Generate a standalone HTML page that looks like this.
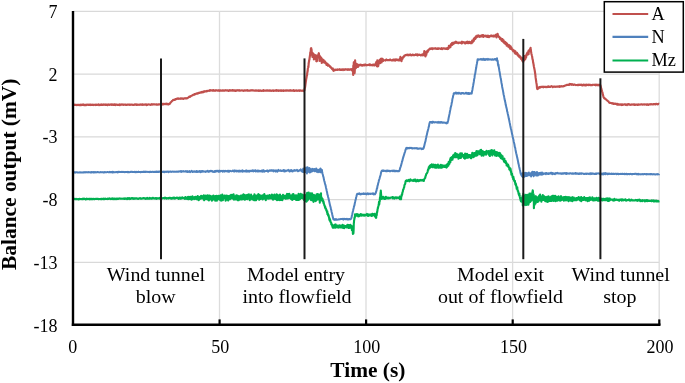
<!DOCTYPE html>
<html><head><meta charset="utf-8"><style>
html,body{margin:0;padding:0;background:#fff;}
svg{display:block;}
text{font-family:"Liberation Serif","Times New Roman",serif;fill:#000;}
.tk{font-size:18px;}
.ax{font-size:21.4px;font-weight:bold;}
.an{font-size:19px;}
.lg{font-size:18.3px;}
</style></head><body>
<svg width="685" height="383" viewBox="0 0 685 383">
<rect width="685" height="383" fill="#fff"/>
<line x1="73" y1="11.45" x2="659.3" y2="11.45" stroke="#d9d9d9" stroke-width="1.25"/>
<line x1="73" y1="74.17" x2="659.3" y2="74.17" stroke="#d9d9d9" stroke-width="1.25"/>
<line x1="73" y1="136.89" x2="659.3" y2="136.89" stroke="#d9d9d9" stroke-width="1.25"/>
<line x1="73" y1="199.61" x2="659.3" y2="199.61" stroke="#d9d9d9" stroke-width="1.25"/>
<line x1="73" y1="262.33" x2="659.3" y2="262.33" stroke="#d9d9d9" stroke-width="1.25"/>
<line x1="219.5" y1="11.2" x2="219.5" y2="324.8" stroke="#dcdcdc" stroke-width="1.3"/>
<line x1="366.0" y1="11.2" x2="366.0" y2="324.8" stroke="#dcdcdc" stroke-width="1.3"/>
<line x1="512.6" y1="11.2" x2="512.6" y2="324.8" stroke="#dcdcdc" stroke-width="1.3"/>
<line x1="659.2" y1="11.2" x2="659.2" y2="324.8" stroke="#dcdcdc" stroke-width="1.3"/>
<polyline fill="none" stroke="#00B050" stroke-width="2.1" stroke-linejoin="round" points="73.0,198.9 73.3,199.2 73.7,199.3 74.0,199.0 74.4,198.8 74.7,199.1 75.1,199.2 75.4,199.3 75.8,198.9 76.1,198.8 76.5,199.2 76.8,199.2 77.2,199.3 77.5,199.2 77.9,199.0 78.2,199.0 78.6,199.4 78.9,199.0 79.3,198.9 79.6,198.8 80.0,199.1 80.3,199.1 80.7,199.0 81.0,199.0 81.4,199.1 81.7,199.1 82.1,199.2 82.4,199.1 82.8,198.7 83.1,199.1 83.5,198.7 83.8,199.0 84.2,198.7 84.5,199.0 84.9,198.8 85.2,199.0 85.6,199.4 85.9,199.0 86.3,199.1 86.6,198.7 87.0,198.9 87.3,199.1 87.7,198.9 88.0,199.0 88.4,199.0 88.7,198.8 89.1,199.1 89.4,198.8 89.8,199.3 90.1,198.8 90.5,199.1 90.8,198.9 91.2,199.1 91.5,198.8 91.9,199.1 92.2,198.9 92.6,199.2 92.9,199.0 93.3,198.9 93.6,198.8 94.0,199.1 94.3,199.0 94.7,199.2 95.0,198.8 95.4,199.0 95.7,199.0 96.1,198.9 96.4,198.9 96.8,198.9 97.1,198.8 97.5,198.7 97.8,198.8 98.2,199.0 98.5,199.2 98.9,199.1 99.2,199.1 99.6,199.0 99.9,199.0 100.3,198.9 100.6,199.0 101.0,199.2 101.3,198.8 101.7,198.7 102.0,199.2 102.4,198.9 102.7,199.0 103.1,199.0 103.4,198.6 103.8,199.3 104.1,199.2 104.5,198.8 104.8,199.0 105.2,198.8 105.5,198.6 105.9,198.8 106.2,198.9 106.6,199.0 106.9,198.9 107.3,198.8 107.6,199.1 108.0,198.6 108.3,198.9 108.7,199.0 109.0,198.7 109.4,198.4 109.7,198.6 110.1,198.8 110.4,198.9 110.8,199.1 111.1,198.5 111.5,198.7 111.8,198.9 112.2,198.7 112.5,198.3 112.9,198.9 113.2,199.2 113.6,198.9 113.9,198.5 114.3,198.6 114.6,198.8 115.0,199.2 115.3,198.8 115.7,198.7 116.0,199.0 116.4,198.7 116.7,199.1 117.1,198.5 117.4,198.6 117.8,198.8 118.1,199.0 118.5,198.8 118.8,198.7 119.2,198.3 119.5,198.5 119.9,198.5 120.2,198.5 120.6,198.8 120.9,198.6 121.3,198.8 121.6,198.7 122.0,198.6 122.3,198.7 122.7,198.7 123.0,198.8 123.4,198.5 123.7,198.6 124.1,198.3 124.4,199.0 124.8,198.9 125.1,198.6 125.5,198.5 125.8,198.3 126.2,198.6 126.5,198.6 126.9,199.1 127.2,198.7 127.6,198.4 127.9,198.1 128.3,198.9 128.6,198.6 129.0,198.2 129.3,198.6 129.7,198.2 130.0,199.1 130.4,198.8 130.7,198.7 131.1,198.5 131.4,198.1 131.8,198.5 132.1,198.2 132.5,198.7 132.8,198.1 133.2,198.3 133.5,198.8 133.9,198.9 134.2,198.3 134.6,198.2 134.9,198.7 135.3,198.7 135.6,198.3 136.0,198.4 136.3,198.4 136.7,198.2 137.0,198.3 137.4,198.8 137.7,198.7 138.1,199.0 138.4,198.5 138.8,198.5 139.1,198.3 139.5,198.5 139.8,198.2 140.2,198.1 140.5,198.6 140.9,198.8 141.2,198.7 141.6,198.8 141.9,198.5 142.3,198.3 142.6,198.5 143.0,198.4 143.3,198.2 143.7,198.0 144.0,198.1 144.4,198.4 144.7,198.5 145.1,198.3 145.4,198.8 145.8,198.5 146.1,198.6 146.5,198.7 146.8,198.2 147.2,197.9 147.5,198.6 147.9,198.2 148.2,198.7 148.6,198.5 148.9,198.6 149.3,198.6 149.6,197.9 150.0,198.6 150.3,198.2 150.7,198.2 151.0,198.3 151.4,198.6 151.7,198.6 152.1,198.6 152.4,197.9 152.8,198.2 153.1,197.8 153.5,198.3 153.8,198.5 154.2,198.2 154.5,198.4 154.9,198.4 155.2,198.6 155.6,198.1 155.9,198.1 156.3,198.1 156.6,198.8 157.0,198.6 157.3,198.3 157.7,198.4 158.0,198.3 158.4,198.4 158.7,198.2 159.1,198.2 159.4,197.9 159.8,198.1 160.1,198.8 160.5,198.4 160.8,198.3 161.2,198.2 161.5,198.3 161.9,198.4 162.2,198.1 162.6,198.3 162.9,198.3 163.3,198.0 163.6,198.0 164.0,198.0 164.3,197.9 164.7,198.5 165.0,197.6 165.4,198.2 165.7,198.1 166.1,198.0 166.4,198.3 166.8,198.6 167.1,198.3 167.5,198.2 167.8,198.0 168.2,198.2 168.5,198.5 168.9,198.1 169.2,197.8 169.6,197.8 169.9,197.8 170.3,197.8 170.6,198.5 171.0,198.3 171.3,198.1 171.7,198.7 172.0,198.0 172.4,198.4 172.7,198.4 173.1,197.6 173.4,197.6 173.8,197.8 174.1,198.5 174.5,198.6 174.8,197.7 175.2,198.5 175.5,198.0 175.9,198.0 176.2,197.9 176.6,198.0 176.9,197.5 177.3,197.8 177.6,197.7 178.0,198.3 178.3,198.8 178.7,198.9 179.0,198.0 179.4,197.5 179.7,197.9 180.1,197.7 180.4,198.8 180.8,198.3 181.1,197.8 181.5,198.5 181.8,198.3 182.2,197.3 182.5,197.8 182.9,197.9 183.2,198.1 183.6,198.1 183.9,197.9 184.3,198.1 184.6,197.7 184.8,197.5 184.9,198.9 185.1,198.2 185.2,198.3 185.4,197.1 185.5,197.9 185.7,198.5 185.8,197.2 186.0,198.7 186.1,197.8 186.3,198.3 186.4,197.9 186.6,198.1 186.7,198.8 186.9,197.7 187.0,199.0 187.2,197.5 187.3,197.4 187.5,198.5 187.6,197.3 187.8,197.7 187.9,198.6 188.1,198.8 188.2,196.8 188.4,198.3 188.5,199.3 188.7,198.8 188.8,197.8 189.0,197.5 189.1,197.8 189.3,197.1 189.4,197.8 189.6,197.8 189.7,197.9 189.9,198.9 190.0,197.8 190.2,196.8 190.3,198.8 190.5,197.1 190.6,197.6 190.8,197.9 190.9,197.7 191.1,197.1 191.2,197.8 191.4,199.7 191.5,197.4 191.7,197.8 191.8,198.9 192.0,198.6 192.1,198.6 192.3,198.7 192.4,196.2 192.6,197.2 192.7,198.0 192.9,198.4 193.0,199.1 193.2,198.3 193.3,197.7 193.5,198.0 193.6,197.7 193.8,198.1 193.9,198.5 194.1,197.6 194.2,197.2 194.4,197.1 194.5,198.9 194.7,199.1 194.8,198.9 195.0,198.7 195.1,198.7 195.3,197.9 195.4,198.5 195.6,196.9 195.7,197.7 195.9,197.2 196.0,198.6 196.2,197.3 196.3,197.8 196.5,198.3 196.6,199.2 196.8,197.1 196.9,196.9 197.1,198.7 197.2,196.8 197.4,198.3 197.5,197.3 197.7,197.8 197.8,196.0 198.0,198.6 198.1,197.4 198.3,196.9 198.4,200.0 198.6,198.6 198.7,200.1 198.9,198.3 199.0,197.5 199.2,198.0 199.3,199.5 199.5,197.8 199.6,198.3 199.8,198.4 199.9,196.9 200.1,198.0 200.2,197.3 200.4,196.5 200.5,198.8 200.7,198.6 200.8,197.9 201.0,196.9 201.1,195.7 201.3,198.4 201.4,197.7 201.6,196.0 201.7,197.8 201.9,196.1 202.0,197.8 202.2,198.0 202.3,198.2 202.5,198.1 202.6,198.0 202.8,196.5 202.9,197.4 203.1,197.2 203.2,197.5 203.4,198.1 203.5,198.5 203.7,199.7 203.8,195.3 204.0,198.3 204.1,197.6 204.3,200.3 204.4,198.9 204.6,195.9 204.7,198.3 204.9,197.2 205.0,199.0 205.2,196.5 205.3,197.7 205.5,197.6 205.6,197.7 205.8,197.1 205.9,195.6 206.1,198.3 206.2,199.0 206.4,197.7 206.5,196.6 206.7,198.0 206.8,198.5 207.0,197.6 207.1,197.7 207.3,199.5 207.4,196.4 207.6,197.1 207.7,195.4 207.9,196.9 208.0,196.8 208.2,196.6 208.3,196.9 208.5,200.0 208.6,197.5 208.8,197.6 208.9,200.5 209.1,197.7 209.2,195.6 209.4,198.2 209.5,196.6 209.7,199.8 209.8,196.2 210.0,197.0 210.1,195.7 210.3,197.9 210.4,196.4 210.6,197.6 210.7,197.2 210.9,196.9 211.0,198.9 211.2,198.9 211.3,197.8 211.5,196.5 211.6,196.3 211.8,198.1 211.9,200.6 212.1,197.1 212.2,196.7 212.4,196.8 212.5,196.2 212.7,196.4 212.8,197.4 213.0,199.6 213.1,197.7 213.3,197.0 213.4,195.5 213.6,198.0 213.7,197.7 213.9,196.0 214.0,196.2 214.2,197.6 214.3,199.1 214.5,198.5 214.6,198.0 214.8,197.2 214.9,198.1 215.1,197.7 215.2,200.7 215.4,196.1 215.5,197.2 215.7,199.4 215.8,197.3 216.0,199.6 216.1,197.6 216.3,197.9 216.4,197.1 216.6,195.7 216.7,196.3 216.9,200.6 217.0,198.5 217.2,198.5 217.3,199.0 217.5,198.4 217.6,199.1 217.8,197.3 217.9,197.3 218.1,199.0 218.2,197.2 218.4,195.8 218.5,197.3 218.7,196.9 218.8,198.5 219.0,196.6 219.1,196.2 219.3,197.2 219.4,199.8 219.6,197.6 219.7,197.8 219.9,197.6 220.0,198.0 220.2,198.9 220.3,199.5 220.5,195.3 220.6,199.5 220.8,197.6 220.9,197.2 221.1,200.6 221.2,197.4 221.4,200.3 221.5,198.9 221.7,196.2 221.8,198.3 222.0,198.6 222.1,197.4 222.3,194.6 222.4,197.1 222.6,197.3 222.7,196.1 222.9,200.1 223.0,197.2 223.2,197.0 223.3,197.2 223.5,196.5 223.6,196.5 223.8,197.7 223.9,198.0 224.1,196.9 224.2,197.4 224.4,195.6 224.5,198.3 224.7,196.5 224.8,197.9 225.0,196.3 225.1,196.8 225.3,197.9 225.4,195.9 225.6,200.6 225.7,197.5 225.9,197.4 226.0,196.5 226.2,199.8 226.3,199.5 226.5,198.0 226.6,195.6 226.8,196.8 226.9,198.4 227.1,196.8 227.2,195.9 227.4,195.9 227.5,196.5 227.7,197.5 227.8,196.6 228.0,197.5 228.1,200.5 228.3,200.0 228.4,196.1 228.6,198.0 228.7,197.6 228.9,197.3 229.0,199.0 229.2,197.0 229.3,197.1 229.5,197.0 229.6,197.4 229.8,199.3 229.9,198.6 230.1,195.6 230.2,196.9 230.4,196.4 230.5,198.6 230.7,197.8 230.8,198.7 231.0,197.4 231.1,194.8 231.3,198.1 231.4,197.8 231.6,198.2 231.7,195.7 231.9,197.6 232.0,196.5 232.2,196.5 232.3,198.0 232.5,198.0 232.7,196.2 232.8,195.1 233.0,194.5 233.1,196.7 233.3,199.0 233.4,197.4 233.6,194.4 233.7,196.3 233.9,198.0 234.0,199.8 234.2,199.1 234.3,198.0 234.5,197.7 234.6,196.0 234.8,196.8 234.9,197.0 235.1,196.4 235.2,197.5 235.4,196.9 235.5,197.9 235.7,199.4 235.8,198.5 236.0,198.0 236.1,197.1 236.3,195.3 236.4,197.3 236.6,198.2 236.7,196.0 236.9,199.2 237.0,197.0 237.2,197.9 237.3,197.0 237.5,195.7 237.6,200.3 237.8,195.8 237.9,198.7 238.1,196.6 238.2,197.8 238.4,196.3 238.5,196.8 238.7,198.7 238.8,200.1 239.0,196.2 239.1,197.4 239.3,198.7 239.4,196.5 239.6,198.4 239.7,196.3 239.9,198.2 240.0,198.0 240.2,199.1 240.3,197.9 240.5,195.7 240.6,198.3 240.8,195.9 240.9,198.4 241.1,199.5 241.2,198.2 241.4,196.6 241.5,199.1 241.7,197.6 241.8,195.6 242.0,196.9 242.1,199.4 242.3,197.0 242.4,197.5 242.6,196.9 242.7,195.0 242.9,196.7 243.0,197.9 243.2,197.7 243.3,197.1 243.5,194.4 243.6,199.1 243.8,198.4 243.9,198.8 244.1,199.2 244.2,196.7 244.4,196.5 244.5,197.8 244.7,199.7 244.8,195.0 245.0,197.0 245.1,196.3 245.3,198.1 245.4,199.4 245.6,196.9 245.7,195.6 245.9,197.4 246.0,196.9 246.2,195.2 246.3,198.6 246.5,196.6 246.6,198.3 246.8,195.5 246.9,198.9 247.1,195.3 247.2,198.8 247.4,194.8 247.5,199.3 247.7,196.8 247.8,195.1 248.0,197.0 248.1,197.8 248.3,195.9 248.4,196.6 248.6,197.7 248.7,197.1 248.9,194.3 249.0,196.7 249.2,197.9 249.3,197.7 249.5,198.7 249.6,196.3 249.8,200.3 249.9,198.4 250.1,197.7 250.2,198.8 250.4,198.6 250.5,197.4 250.7,196.4 250.8,198.7 251.0,197.9 251.1,194.6 251.3,195.7 251.4,197.9 251.6,197.4 251.7,197.7 251.9,198.2 252.0,197.5 252.2,199.5 252.3,196.4 252.5,196.7 252.6,197.7 252.8,198.3 252.9,198.4 253.1,199.4 253.2,196.6 253.4,198.9 253.5,197.9 253.7,195.8 253.8,197.1 254.0,200.2 254.1,198.4 254.3,196.6 254.4,194.2 254.6,196.2 254.7,196.3 254.9,197.4 255.0,200.3 255.2,198.3 255.3,197.7 255.5,195.9 255.6,195.6 255.8,197.0 255.9,196.6 256.1,200.3 256.2,196.7 256.4,196.4 256.5,198.8 256.7,197.3 256.8,195.5 257.0,199.0 257.1,196.8 257.3,195.4 257.4,197.7 257.6,197.9 257.7,196.7 257.9,198.2 258.0,198.4 258.2,196.0 258.3,194.3 258.5,194.2 258.6,197.0 258.8,198.9 258.9,198.6 259.1,199.2 259.2,199.8 259.4,197.2 259.5,198.7 259.7,195.0 259.8,198.2 260.0,197.8 260.1,197.1 260.3,196.6 260.4,195.6 260.6,197.4 260.7,199.0 260.9,196.7 261.0,197.9 261.2,196.3 261.3,197.5 261.5,195.8 261.6,197.7 261.8,196.9 261.9,197.6 262.0,196.3 262.2,195.5 262.3,196.7 262.5,198.6 262.6,199.4 262.8,196.7 262.9,198.3 263.1,198.2 263.2,197.7 263.4,195.0 263.5,197.6 263.7,195.8 263.8,198.8 264.0,198.3 264.1,198.0 264.3,194.1 264.4,198.0 264.6,198.1 264.7,195.4 264.9,198.5 265.0,197.3 265.2,196.9 265.3,196.1 265.5,195.7 265.6,196.5 265.8,200.2 265.9,197.4 266.1,197.4 266.2,196.2 266.4,196.3 266.5,196.4 266.7,195.9 266.8,198.4 267.0,196.8 267.1,198.4 267.3,195.5 267.4,198.4 267.6,197.1 267.7,198.1 267.9,197.0 268.0,195.9 268.2,198.8 268.3,196.5 268.5,196.9 268.6,195.9 268.8,197.4 268.9,196.6 269.1,197.5 269.2,197.6 269.4,196.1 269.5,195.1 269.7,197.7 269.8,198.4 270.0,198.1 270.1,195.5 270.3,198.0 270.4,197.6 270.6,197.5 270.7,197.7 270.9,196.6 271.0,197.4 271.2,198.4 271.3,196.4 271.5,195.1 271.6,196.9 271.8,197.4 271.9,194.5 272.1,196.1 272.2,197.9 272.4,196.9 272.5,197.2 272.7,195.3 272.8,198.4 273.0,199.6 273.1,196.8 273.3,196.0 273.4,195.4 273.6,198.3 273.7,197.2 273.9,195.9 274.0,198.8 274.2,198.2 274.3,197.9 274.5,194.6 274.6,196.9 274.8,198.0 274.9,195.3 275.1,198.4 275.2,199.1 275.4,198.5 275.5,196.0 275.7,196.1 275.8,198.4 276.0,198.5 276.1,198.8 276.3,198.8 276.4,196.9 276.6,196.5 276.7,194.4 276.9,198.2 277.0,200.1 277.2,196.4 277.3,196.4 277.5,198.0 277.6,197.6 277.8,195.1 277.9,196.0 278.1,195.5 278.2,199.9 278.4,196.0 278.5,198.2 278.7,199.8 278.8,199.7 279.0,199.1 279.1,199.3 279.3,195.3 279.4,196.5 279.6,196.0 279.7,196.6 279.9,200.1 280.0,194.6 280.2,197.8 280.3,195.3 280.5,198.9 280.6,198.9 280.8,196.3 280.9,200.0 281.1,197.1 281.2,198.9 281.4,197.4 281.5,196.2 281.7,196.5 281.8,196.8 282.0,197.9 282.1,197.2 282.3,200.1 282.4,196.7 282.6,196.3 282.7,196.0 282.9,195.9 283.0,194.9 283.2,195.6 283.3,198.3 283.5,197.1 283.6,196.7 283.8,197.5 283.9,198.5 284.1,197.9 284.2,198.1 284.4,196.2 284.5,196.6 284.7,195.9 284.8,196.8 285.0,195.8 285.1,196.4 285.3,196.7 285.4,196.7 285.6,196.6 285.7,196.3 285.9,198.8 286.0,196.5 286.2,195.5 286.3,197.2 286.5,195.4 286.6,195.4 286.8,197.1 286.9,194.6 287.1,193.9 287.2,197.4 287.4,198.4 287.5,194.6 287.7,195.7 287.8,197.8 288.0,194.1 288.1,195.7 288.3,195.2 288.4,196.7 288.6,194.1 288.7,198.2 288.9,196.7 289.0,197.4 289.2,196.5 289.3,193.9 289.5,196.7 289.6,195.0 289.8,196.9 289.9,195.7 290.1,196.5 290.2,196.6 290.4,198.0 290.5,198.0 290.7,195.5 290.8,196.9 291.0,199.0 291.1,197.6 291.3,195.9 291.4,196.7 291.6,196.4 291.7,198.3 291.9,197.0 292.0,197.4 292.2,200.0 292.3,194.9 292.5,195.5 292.6,194.4 292.8,194.6 292.9,198.1 293.1,197.3 293.2,199.2 293.4,194.1 293.5,195.6 293.7,199.0 293.8,198.4 294.0,198.2 294.1,198.1 294.3,196.9 294.4,196.9 294.6,196.9 294.7,198.1 294.9,196.6 295.0,197.3 295.2,199.0 295.3,195.3 295.5,195.8 295.6,197.7 295.8,196.5 295.9,196.6 296.1,199.9 296.2,197.5 296.4,196.3 296.5,198.4 296.7,200.0 296.8,195.3 297.0,195.9 297.1,197.0 297.3,195.9 297.4,200.0 297.6,197.6 297.7,196.3 297.9,197.6 298.0,195.7 298.2,196.0 298.3,197.0 298.5,200.0 298.6,193.7 298.8,197.5 298.9,198.8 299.1,197.9 299.2,199.6 299.4,197.5 299.5,197.1 299.7,196.7 299.8,195.6 300.0,199.2 300.1,195.1 300.3,196.7 300.4,196.1 300.6,195.7 300.7,193.7 300.9,196.3 301.0,197.0 301.2,197.0 301.3,198.0 301.5,196.6 301.6,195.9 301.8,197.3 301.9,197.8 302.1,195.5 302.2,194.6 302.4,195.3 302.5,198.3 302.7,198.2 302.8,195.5 303.0,197.0 303.1,198.0 303.3,198.7 303.4,195.9 303.6,196.5 303.7,198.8 303.9,199.9 304.0,199.1 304.2,195.0 304.3,197.6 304.5,196.3 304.6,196.7 304.8,195.4 304.9,195.7 305.1,196.8 305.2,201.2 305.4,198.6 305.5,197.9 305.7,197.0 305.8,195.1 306.0,196.4 306.1,199.9 306.3,198.9 306.4,201.6 306.6,197.6 306.7,196.9 306.9,193.2 307.0,197.9 307.2,192.9 307.3,200.6 307.5,195.5 307.6,197.0 307.8,193.9 307.9,195.9 308.1,194.9 308.2,199.7 308.4,197.7 308.5,194.3 308.7,192.6 308.8,197.0 309.0,196.0 309.1,194.5 309.3,198.5 309.4,196.7 309.6,197.4 309.7,195.8 309.9,195.9 310.0,196.1 310.2,193.5 310.3,198.7 310.5,198.2 310.6,193.3 310.8,197.5 310.9,199.9 311.1,197.8 311.2,200.3 311.4,196.7 311.5,197.3 311.7,194.3 311.8,195.2 312.0,193.2 312.1,195.3 312.3,197.9 312.4,198.6 312.6,200.0 312.7,197.7 312.9,195.1 313.0,198.4 313.2,197.1 313.3,201.5 313.5,201.9 313.6,199.6 313.8,194.9 313.9,196.3 314.1,197.9 314.2,195.9 314.4,198.7 314.5,199.1 314.7,199.4 314.8,198.0 315.0,195.5 315.1,195.7 315.3,197.3 315.4,200.5 315.6,201.1 315.7,199.8 315.9,198.4 316.0,199.1 316.2,199.5 316.3,200.5 316.5,199.5 316.6,194.2 316.8,199.8 316.9,198.5 317.1,196.7 317.2,198.9 317.4,198.3 317.5,197.6 317.7,194.0 317.8,198.0 318.0,199.0 318.1,197.6 318.3,194.3 318.4,198.8 318.6,199.4 318.7,198.2 318.9,198.7 319.0,197.0 319.2,196.4 319.3,199.0 319.5,197.1 319.6,198.2 319.8,202.6 319.9,199.4 320.1,198.2 320.2,194.4 320.4,198.1 320.5,199.6 320.7,196.4 320.8,197.4 321.0,193.3 321.1,199.1 321.3,196.8 321.4,199.2 321.6,200.3 321.7,197.7 321.9,199.4 322.0,198.7 322.2,198.6 322.3,198.9 322.5,198.8 322.6,201.1 322.8,201.1 322.9,200.2 323.1,201.8 323.2,201.2 323.4,201.1 323.5,203.2 323.7,202.1 323.8,204.0 324.0,203.8 324.1,204.7 324.3,204.8 324.4,205.6 324.6,205.5 324.7,206.1 324.9,206.3 325.0,207.3 325.2,206.7 325.3,208.0 325.5,208.8 325.6,208.1 325.8,208.9 325.9,208.6 326.1,209.2 326.2,210.0 326.4,209.9 326.5,209.9 326.7,211.0 326.8,211.5 327.0,212.0 327.1,212.7 327.3,211.3 327.4,214.1 327.6,213.3 327.7,213.2 327.9,213.9 328.0,215.0 328.2,215.7 328.3,215.2 328.5,216.0 328.6,215.0 328.8,216.8 328.9,217.0 329.1,217.1 329.2,218.6 329.4,219.7 329.5,219.5 329.7,218.5 329.8,220.8 330.0,219.6 330.1,220.3 330.3,220.2 330.4,221.5 330.6,222.0 330.7,222.1 330.9,222.2 331.0,222.6 331.2,222.8 331.3,224.4 331.5,223.5 331.6,224.2 331.8,224.6 331.9,224.5 332.1,225.4 332.2,224.7 332.4,226.8 332.5,226.9 332.7,226.1 332.8,227.8 333.0,225.7 333.1,226.9 333.3,226.8 333.4,225.9 333.6,226.2 333.7,227.2 333.9,226.5 334.0,226.7 334.2,227.7 334.3,226.6 334.5,224.9 334.6,225.7 334.8,227.1 334.9,226.3 335.1,225.4 335.2,224.6 335.4,226.7 335.5,227.7 335.7,225.3 335.8,224.5 336.0,226.8 336.1,225.9 336.3,226.1 336.4,226.1 336.6,225.6 336.7,226.8 336.9,227.2 337.0,226.7 337.2,225.9 337.3,227.3 337.5,226.3 337.6,226.9 337.8,225.6 337.9,227.0 338.1,227.1 338.2,227.6 338.4,226.4 338.5,226.8 338.7,225.9 338.8,227.2 339.0,227.1 339.1,227.4 339.3,226.1 339.4,225.3 339.6,226.3 339.7,226.2 339.9,225.7 340.0,226.9 340.2,227.2 340.3,226.8 340.5,227.4 340.6,226.8 340.8,225.5 340.9,225.9 341.1,226.1 341.2,227.0 341.4,227.2 341.5,226.5 341.7,227.3 341.8,225.7 342.0,226.3 342.1,227.7 342.3,226.8 342.4,227.3 342.6,224.7 342.7,224.9 342.9,225.6 343.0,227.3 343.2,227.8 343.3,225.9 343.5,225.5 343.6,225.5 343.8,225.6 343.9,226.9 344.1,226.1 344.2,228.1 344.4,227.0 344.5,225.8 344.7,226.6 344.8,226.3 345.0,227.1 345.1,227.2 345.3,226.1 345.4,227.2 345.6,226.9 345.7,226.3 345.9,226.6 346.0,227.0 346.2,226.1 346.3,225.8 346.5,227.5 346.6,226.4 346.8,225.9 346.9,226.8 347.1,225.1 347.2,226.5 347.4,225.2 347.5,226.0 347.7,224.8 347.8,225.8 348.0,227.2 348.1,226.2 348.3,225.3 348.4,227.9 348.6,225.8 348.7,227.7 348.9,225.9 349.0,225.1 349.2,228.0 349.3,226.0 349.5,227.1 349.6,227.5 349.8,225.2 349.9,226.5 350.1,225.9 350.2,227.1 350.4,226.4 350.5,224.8 350.7,226.5 350.8,227.6 351.0,225.9 351.1,227.5 351.3,225.8 351.4,226.8 351.6,227.8 351.7,227.5 351.9,230.3 352.0,229.7 352.2,229.6 352.3,229.4 352.5,228.3 352.6,226.6 352.8,231.8 352.9,233.9 353.1,232.1 353.2,232.2 353.4,233.5 353.5,232.4 353.7,228.1 353.8,223.6 354.0,221.8 354.1,220.2 354.3,219.8 354.4,218.2 354.6,217.3 354.7,218.1 354.9,216.7 355.0,214.4 355.2,214.7 355.3,215.0 355.5,215.1 355.6,214.5 355.8,215.8 355.9,214.3 356.1,215.7 356.2,215.7 356.4,215.1 356.5,214.9 356.7,215.3 356.8,215.3 357.0,214.0 357.1,214.5 357.3,215.6 357.4,215.2 357.6,215.0 357.7,214.7 357.9,214.8 358.0,214.8 358.2,216.5 358.3,214.5 358.5,216.1 358.6,215.5 358.8,215.3 358.9,215.3 359.1,215.0 359.2,216.1 359.4,215.5 359.5,215.2 359.7,215.1 359.8,215.3 360.0,214.5 360.1,215.0 360.3,214.8 360.4,215.5 360.6,215.5 360.7,214.1 360.9,215.0 361.0,215.7 361.2,214.4 361.3,214.5 361.5,215.7 361.6,215.1 361.8,214.9 361.9,214.5 362.1,215.2 362.2,214.8 362.4,215.2 362.5,215.3 362.7,215.5 362.8,214.9 363.0,214.8 363.1,215.1 363.3,215.0 363.4,215.2 363.6,214.8 363.7,215.0 363.9,214.8 364.0,214.8 364.2,215.2 364.3,215.7 364.5,214.8 364.6,215.4 365.0,215.2 365.3,215.1 365.7,215.4 366.0,214.7 366.4,215.3 366.7,215.2 367.1,213.9 367.4,215.2 367.8,215.3 368.1,216.0 368.5,214.4 368.8,215.0 369.2,215.1 369.5,214.5 369.9,215.5 370.2,215.1 370.6,214.5 370.9,214.3 371.3,214.7 371.6,216.0 372.0,215.9 372.3,213.8 372.7,214.0 373.0,215.2 373.4,214.8 373.7,214.5 374.1,215.2 374.2,214.9 374.4,215.0 374.5,215.0 374.7,213.8 374.8,216.2 375.0,214.3 375.1,216.8 375.3,216.8 375.4,216.5 375.6,217.2 375.7,217.5 375.9,215.9 376.0,217.9 376.2,217.8 376.3,215.0 376.5,214.4 376.6,215.7 376.8,214.5 376.9,212.2 377.1,212.6 377.2,211.4 377.4,211.3 377.5,209.6 377.7,209.0 377.8,207.9 378.0,208.2 378.1,207.3 378.3,206.1 378.4,205.8 378.6,204.8 378.7,205.7 378.9,203.1 379.0,201.8 379.2,201.9 379.3,204.1 379.5,201.3 379.6,201.8 379.8,200.8 379.9,197.7 380.1,198.6 380.2,197.1 380.4,195.0 380.5,192.7 380.7,192.7 380.8,190.5 381.0,193.3 381.1,194.1 381.3,196.5 381.4,197.6 381.6,198.0 381.7,199.0 381.9,198.9 382.0,198.2 382.4,197.5 382.7,198.0 383.1,196.8 383.4,197.5 383.8,198.1 384.1,198.8 384.5,197.5 384.8,198.5 385.2,198.9 385.5,198.7 385.9,196.8 386.2,198.3 386.6,197.9 386.9,198.3 387.3,197.7 387.6,197.5 388.0,197.7 388.3,198.5 388.7,198.2 389.0,197.7 389.4,198.0 389.7,198.3 390.1,198.1 390.4,197.8 390.8,197.5 391.1,197.5 391.5,197.6 391.8,197.6 392.2,197.1 392.5,197.2 392.9,198.3 393.2,197.3 393.6,197.2 393.9,197.8 394.3,198.6 394.6,198.5 395.0,197.7 395.3,197.4 395.7,197.6 396.0,197.4 396.4,197.6 396.7,198.1 397.1,197.4 397.4,197.5 397.8,197.8 398.1,197.9 398.5,197.5 398.8,197.5 399.2,197.3 399.3,197.4 399.5,198.3 399.6,197.8 399.8,196.5 399.9,199.1 400.1,198.7 400.2,198.3 400.4,199.1 400.5,197.6 400.7,197.6 400.8,199.1 401.0,199.2 401.1,198.7 401.3,196.3 401.4,196.2 401.6,196.1 401.7,194.5 402.1,194.8 402.4,192.4 402.8,191.7 403.1,189.7 403.5,189.3 403.8,187.9 404.2,187.2 404.5,184.9 404.9,184.2 405.2,183.9 405.6,181.2 405.9,180.7 406.3,180.6 406.6,180.2 407.0,180.3 407.3,181.1 407.7,180.9 408.0,180.7 408.4,180.5 408.7,179.9 409.1,180.4 409.4,181.3 409.8,180.9 410.1,179.7 410.5,179.4 410.8,180.1 411.2,180.5 411.5,180.1 411.9,180.3 412.2,180.6 412.6,180.8 412.9,180.5 413.3,181.0 413.6,179.7 414.0,180.6 414.3,180.6 414.7,179.7 415.0,181.0 415.4,179.6 415.7,179.7 416.1,181.4 416.4,181.0 416.8,180.6 417.1,181.1 417.5,181.0 417.8,179.9 418.2,180.6 418.5,181.1 418.9,180.3 419.2,180.4 419.6,180.2 419.9,180.8 420.3,180.1 420.6,180.1 421.0,179.8 421.3,180.0 421.7,180.5 422.0,180.6 422.4,180.2 422.7,179.9 423.1,180.6 423.4,180.6 423.8,181.0 424.1,179.6 424.5,178.7 424.8,178.3 425.2,178.0 425.5,176.3 425.9,175.5 426.2,174.2 426.6,173.6 426.9,173.4 427.3,172.5 427.6,171.8 428.0,169.6 428.3,170.0 428.5,168.6 428.6,169.2 428.8,167.1 428.9,168.0 429.1,167.1 429.2,168.2 429.4,167.1 429.5,167.6 429.7,165.9 429.8,167.6 430.0,165.6 430.1,167.6 430.3,165.6 430.4,165.2 430.6,166.8 430.7,165.7 430.9,166.0 431.0,164.9 431.2,165.7 431.3,166.1 431.5,165.4 431.6,166.4 431.8,164.2 431.9,166.8 432.1,165.7 432.2,167.3 432.4,165.8 432.5,165.5 432.7,165.7 432.8,166.3 433.0,166.5 433.1,165.7 433.3,165.4 433.4,166.4 433.6,166.7 433.7,164.6 433.9,165.2 434.0,165.5 434.2,167.5 434.3,167.1 434.5,166.7 434.6,166.5 434.8,165.2 434.9,167.0 435.1,165.7 435.2,165.5 435.4,167.7 435.5,164.9 435.7,167.2 435.8,166.3 436.0,165.4 436.1,166.3 436.3,165.4 436.4,166.3 436.6,165.6 436.7,165.2 436.9,167.8 437.0,165.7 437.2,166.9 437.3,166.1 437.5,166.7 437.6,165.1 437.8,165.3 437.9,164.5 438.1,166.9 438.2,166.5 438.4,165.2 438.5,166.8 438.7,166.6 438.8,167.8 439.0,166.3 439.1,166.9 439.3,166.6 439.4,166.8 439.6,166.2 439.7,165.9 439.9,166.7 440.0,167.1 440.2,165.3 440.3,165.3 440.5,166.2 440.6,167.6 440.8,166.0 440.9,164.9 441.1,166.8 441.2,166.8 441.4,167.7 441.5,166.4 441.7,167.7 441.8,165.7 442.0,166.9 442.1,166.3 442.3,165.3 442.4,166.0 442.6,167.2 442.7,167.1 442.9,165.9 443.0,167.1 443.2,166.9 443.3,166.9 443.5,166.5 443.6,166.5 443.8,165.6 443.9,166.2 444.1,166.3 444.2,165.7 444.4,166.0 444.5,166.4 444.7,166.4 444.8,167.0 445.0,165.5 445.1,166.0 445.3,166.5 445.4,166.0 445.6,166.5 445.7,165.9 445.9,167.1 446.0,166.1 446.2,165.4 446.3,166.9 446.5,167.6 446.6,164.8 446.8,166.2 446.9,166.1 447.1,166.7 447.2,166.9 447.4,165.2 447.5,163.8 447.7,165.5 447.8,165.6 448.0,164.9 448.1,164.3 448.3,163.2 448.4,165.8 448.6,162.4 448.7,161.8 448.9,164.0 449.0,163.1 449.2,163.3 449.3,162.7 449.5,163.9 449.6,163.4 449.8,161.1 449.9,162.5 450.1,159.9 450.2,159.1 450.4,162.1 450.5,160.0 450.7,157.8 450.8,160.0 451.0,159.1 451.1,160.2 451.3,159.3 451.4,158.2 451.6,158.0 451.7,159.6 451.9,157.3 452.0,158.4 452.2,156.7 452.3,158.3 452.5,159.8 452.6,158.0 452.8,158.5 452.9,157.4 453.1,155.3 453.2,155.9 453.4,156.2 453.5,156.5 453.7,155.0 453.8,156.6 454.0,154.9 454.1,155.9 454.3,155.8 454.4,154.3 454.6,157.2 454.7,155.9 454.9,156.0 455.0,155.8 455.2,153.1 455.3,154.0 455.5,154.7 455.6,157.2 455.8,155.1 455.9,156.7 456.1,154.5 456.2,154.8 456.4,155.3 456.5,157.3 456.7,153.7 456.8,155.7 457.0,156.4 457.1,156.1 457.3,155.9 457.4,156.9 457.6,156.3 457.7,154.6 457.9,156.8 458.0,154.9 458.2,155.5 458.3,157.8 458.5,158.7 458.6,157.8 458.8,156.5 458.9,155.0 459.1,155.0 459.2,158.1 459.4,156.4 459.5,154.2 459.7,158.0 459.8,156.7 460.0,157.7 460.1,156.5 460.3,153.2 460.4,155.1 460.6,155.8 460.7,155.8 460.9,157.9 461.0,155.2 461.2,155.9 461.3,156.0 461.5,155.9 461.6,154.7 461.8,154.5 461.9,153.3 462.1,156.5 462.2,155.8 462.4,156.3 462.5,154.7 462.7,156.1 462.8,154.8 463.0,154.8 463.1,156.5 463.3,156.9 463.4,156.8 463.6,156.0 463.7,155.6 463.9,157.9 464.0,157.7 464.2,155.3 464.3,154.8 464.5,156.6 464.6,156.5 464.8,155.0 464.9,158.8 465.1,153.5 465.2,155.1 465.4,156.4 465.5,157.4 465.7,153.9 465.8,155.6 466.0,157.9 466.1,157.9 466.3,155.9 466.4,156.2 466.6,155.1 466.7,156.7 466.9,154.9 467.0,153.7 467.2,154.3 467.3,156.3 467.5,154.6 467.6,157.6 467.8,157.8 467.9,157.4 468.1,157.0 468.2,157.6 468.4,156.6 468.5,157.3 468.7,156.8 468.8,157.2 469.0,155.0 469.1,155.5 469.3,155.0 469.4,157.3 469.6,156.9 469.7,155.3 469.9,155.1 470.0,155.6 470.2,157.3 470.3,156.2 470.5,156.0 470.6,155.4 470.8,156.2 470.9,158.3 471.1,155.4 471.2,155.7 471.4,158.2 471.5,156.9 471.7,154.5 471.8,157.2 472.0,154.1 472.1,156.4 472.3,152.8 472.4,154.2 472.6,156.6 472.7,154.5 472.9,154.3 473.0,155.2 473.2,155.0 473.3,154.3 473.5,154.0 473.6,157.1 473.8,156.7 473.9,155.0 474.1,153.0 474.2,153.7 474.4,153.9 474.5,154.9 474.7,156.3 474.8,153.4 475.0,154.2 475.1,153.3 475.3,154.0 475.4,152.8 475.6,154.2 475.7,155.2 475.9,152.9 476.0,152.9 476.2,153.5 476.3,151.4 476.5,155.7 476.6,151.1 476.8,152.4 476.9,151.6 477.1,154.9 477.2,152.0 477.4,151.9 477.5,155.2 477.7,152.3 477.8,151.2 478.0,152.3 478.1,152.6 478.3,151.3 478.4,152.1 478.6,152.0 478.7,153.4 478.9,153.5 479.0,153.6 479.2,152.2 479.3,153.5 479.5,152.1 479.6,154.1 479.8,153.0 479.9,151.8 480.1,154.2 480.2,150.3 480.4,151.1 480.5,151.3 480.7,152.3 480.8,150.7 481.0,150.8 481.1,149.8 481.3,152.7 481.4,151.4 481.6,155.6 481.7,153.6 481.9,150.9 482.0,154.4 482.2,152.7 482.3,154.1 482.5,151.0 482.6,154.2 482.8,154.1 482.9,152.0 483.1,151.4 483.2,152.1 483.4,153.0 483.5,155.6 483.7,155.2 483.8,154.7 484.0,152.3 484.1,152.2 484.3,153.2 484.4,152.3 484.6,152.0 484.7,152.4 484.9,153.9 485.0,152.6 485.2,153.0 485.3,152.3 485.5,152.5 485.6,152.3 485.8,154.5 485.9,153.1 486.1,154.8 486.2,152.5 486.4,154.3 486.5,150.9 486.7,152.2 486.8,152.7 487.0,151.9 487.1,152.7 487.3,151.5 487.4,152.6 487.6,151.9 487.7,152.8 487.9,152.4 488.0,151.5 488.2,152.3 488.3,152.9 488.5,151.1 488.6,153.0 488.8,154.6 488.9,152.6 489.1,153.7 489.2,153.8 489.4,151.8 489.5,154.8 489.7,155.9 489.8,151.6 490.0,155.9 490.1,152.0 490.3,155.0 490.4,150.5 490.6,154.5 490.7,153.2 490.9,151.3 491.0,151.9 491.2,151.6 491.3,151.8 491.5,153.6 491.6,152.8 491.8,150.1 491.9,152.6 492.1,153.7 492.2,153.2 492.4,155.4 492.5,150.6 492.7,153.4 492.8,153.2 493.0,154.1 493.1,151.3 493.3,151.4 493.4,152.9 493.6,153.3 493.7,150.7 493.9,153.7 494.0,153.2 494.2,154.2 494.3,150.3 494.5,153.9 494.6,152.0 494.8,152.6 494.9,154.3 495.1,155.5 495.2,153.5 495.4,153.1 495.5,155.0 495.7,152.1 495.8,153.1 496.0,152.6 496.1,152.0 496.3,153.6 496.4,155.9 496.6,153.6 496.7,154.0 496.9,153.3 497.0,154.7 497.2,153.6 497.3,152.3 497.5,153.5 497.6,155.1 497.8,153.3 497.9,154.8 498.1,153.3 498.2,155.7 498.4,153.9 498.5,154.5 498.7,153.6 498.8,155.0 499.0,154.0 499.1,152.9 499.3,154.9 499.4,153.5 499.6,156.4 499.7,155.8 499.9,155.2 500.0,156.0 500.2,153.4 500.3,157.1 500.5,155.2 500.6,156.6 500.8,158.2 500.9,154.7 501.1,156.0 501.2,156.9 501.4,157.2 501.5,155.3 501.7,156.2 501.8,158.6 502.0,156.8 502.1,158.1 502.3,156.4 502.4,157.0 502.6,156.3 502.7,158.4 502.9,159.4 503.0,158.6 503.2,158.4 503.3,159.0 503.5,159.4 503.6,158.8 503.8,159.8 503.9,161.3 504.1,161.6 504.2,159.2 504.4,158.7 504.5,161.9 504.7,161.2 504.8,161.7 505.0,161.3 505.1,160.8 505.3,162.2 505.4,162.6 505.6,162.9 505.7,161.0 505.9,163.2 506.0,162.2 506.2,162.5 506.3,163.4 506.5,163.0 506.6,165.5 506.8,164.3 506.9,164.3 507.1,164.1 507.2,164.8 507.4,164.6 507.5,165.6 507.7,166.1 507.8,166.3 508.0,164.6 508.1,165.7 508.3,166.4 508.4,165.4 508.6,167.1 508.7,166.9 508.9,167.4 509.0,167.9 509.2,167.2 509.3,169.5 509.5,169.2 509.6,168.1 509.8,169.2 509.9,169.7 510.1,168.6 510.2,169.4 510.4,170.7 510.5,168.6 510.7,169.7 510.8,171.6 511.0,172.3 511.1,171.3 511.3,173.3 511.4,174.8 511.6,173.5 511.7,173.7 511.9,174.1 512.0,173.6 512.2,175.4 512.3,175.4 512.5,176.3 512.6,177.3 512.8,176.5 512.9,177.0 513.1,177.6 513.2,179.2 513.4,176.8 513.5,178.5 513.7,178.3 513.8,179.4 514.0,180.4 514.1,180.1 514.3,181.1 514.4,181.0 514.6,180.6 514.7,181.1 514.9,180.8 515.0,182.6 515.2,182.5 515.3,184.0 515.5,184.5 515.6,183.3 515.8,183.6 515.9,185.5 516.1,184.7 516.2,186.1 516.4,186.9 516.5,186.4 516.7,188.8 516.8,187.0 517.0,188.5 517.1,188.2 517.3,187.2 517.4,189.3 517.6,189.8 517.7,190.9 517.9,190.7 518.0,190.7 518.2,191.3 518.3,192.0 518.5,193.3 518.6,192.9 518.8,194.6 518.9,194.7 519.1,193.8 519.2,195.8 519.4,193.5 519.5,195.9 519.7,195.5 519.8,196.7 520.0,198.2 520.1,197.6 520.3,197.9 520.4,200.0 520.6,198.1 520.7,198.4 520.9,201.3 521.0,201.3 521.2,198.2 521.3,200.7 521.5,201.8 521.6,200.0 521.8,199.5 521.9,200.5 522.1,200.6 522.2,198.5 522.4,202.0 522.5,196.1 522.7,199.7 522.8,205.5 523.0,196.9 523.1,199.7 523.3,193.8 523.4,197.4 523.6,196.5 523.7,199.7 523.9,198.1 524.0,204.4 524.2,196.9 524.3,199.3 524.5,200.0 524.6,201.1 524.8,201.8 524.9,195.2 525.1,205.1 525.2,198.5 525.4,197.5 525.5,195.0 525.7,198.2 525.8,194.7 526.0,199.8 526.1,197.7 526.3,200.2 526.4,197.2 526.6,199.5 526.7,204.9 526.9,202.3 527.0,199.7 527.2,196.7 527.3,203.1 527.5,194.9 527.6,195.6 527.8,202.6 527.9,197.7 528.1,202.7 528.2,200.7 528.4,204.7 528.5,203.8 528.7,200.7 528.8,197.6 529.0,200.7 529.1,202.7 529.3,199.5 529.4,193.6 529.6,198.2 529.7,198.2 529.9,199.0 530.0,198.2 530.2,202.0 530.3,195.9 530.5,200.2 530.6,194.1 530.8,193.6 530.9,196.5 531.1,197.2 531.2,196.8 531.4,197.3 531.5,200.6 531.7,200.5 531.8,199.2 532.0,199.5 532.1,196.1 532.3,194.2 532.4,191.9 532.6,193.2 532.7,190.2 532.9,191.0 533.0,193.4 533.2,195.0 533.3,198.8 533.5,195.2 533.6,194.2 533.8,198.7 533.9,208.2 534.1,205.2 534.2,201.7 534.4,205.2 534.5,200.3 534.7,204.5 534.8,198.8 535.0,198.0 535.1,200.7 535.3,196.3 535.4,198.6 535.6,203.5 535.7,200.0 535.9,196.4 536.0,198.4 536.2,198.9 536.3,197.2 536.5,199.9 536.6,201.8 536.8,199.1 536.9,200.9 537.1,199.6 537.2,199.2 537.4,197.3 537.5,201.0 537.7,201.9 537.8,198.0 538.0,197.0 538.1,200.0 538.3,199.1 538.4,201.3 538.6,199.9 538.7,198.6 538.9,196.0 539.0,200.2 539.2,199.1 539.3,196.3 539.5,195.9 539.6,195.2 539.8,200.1 539.9,198.0 540.1,194.6 540.2,197.1 540.4,197.6 540.5,198.6 540.7,198.9 540.8,198.2 541.0,200.2 541.1,200.8 541.3,198.4 541.4,201.8 541.6,198.6 541.7,197.2 541.9,199.1 542.0,196.2 542.2,198.3 542.3,196.9 542.5,198.0 542.6,199.1 542.8,195.0 542.9,199.5 543.1,199.2 543.2,198.4 543.4,200.0 543.5,199.3 543.7,198.2 543.8,197.1 544.0,200.0 544.1,200.0 544.3,196.4 544.4,197.6 544.6,196.9 544.7,200.1 544.9,197.8 545.0,196.8 545.2,201.1 545.3,199.4 545.5,199.1 545.6,199.1 545.8,198.4 545.9,198.8 546.1,200.1 546.2,199.4 546.4,198.0 546.5,198.8 546.7,201.5 546.8,197.8 547.0,196.7 547.1,198.8 547.3,197.0 547.4,201.9 547.6,199.6 547.7,199.5 547.9,199.2 548.0,201.6 548.2,197.1 548.3,198.6 548.5,196.2 548.6,200.4 548.8,198.5 548.9,201.2 549.1,198.2 549.2,197.1 549.4,197.6 549.5,199.8 549.7,197.4 549.8,199.0 550.0,197.6 550.1,197.6 550.3,197.8 550.4,200.9 550.6,197.1 550.7,199.1 550.9,199.7 551.0,197.6 551.2,196.5 551.3,200.7 551.5,201.0 551.6,198.3 551.8,197.0 551.9,199.8 552.1,198.6 552.2,197.5 552.4,198.1 552.5,195.7 552.7,197.5 552.8,197.0 553.0,196.9 553.1,199.4 553.3,199.0 553.4,200.9 553.6,195.8 553.7,197.8 553.9,197.5 554.0,200.4 554.2,200.0 554.3,198.8 554.5,198.8 554.6,197.7 554.8,198.0 554.9,198.1 555.1,195.9 555.2,201.1 555.4,199.6 555.5,201.3 555.7,200.2 555.8,199.3 556.0,199.7 556.1,196.6 556.3,197.4 556.4,199.7 556.6,198.2 556.7,196.7 556.9,198.7 557.0,197.1 557.2,198.7 557.3,200.6 557.5,197.3 557.6,198.2 557.8,199.4 557.9,198.7 558.1,198.9 558.2,197.7 558.4,198.3 558.5,196.2 558.7,198.5 558.8,200.2 559.0,197.4 559.1,198.5 559.3,199.6 559.4,200.2 559.6,200.1 559.7,197.7 559.9,198.3 560.0,200.8 560.2,198.2 560.3,199.1 560.5,197.8 560.6,198.0 560.8,196.3 560.9,198.1 561.1,196.3 561.2,197.6 561.4,197.6 561.5,200.3 561.7,199.6 561.8,199.2 562.0,198.2 562.1,197.2 562.3,199.3 562.4,197.8 562.6,198.6 562.7,199.8 562.9,198.6 563.0,198.8 563.2,197.7 563.3,200.0 563.5,199.4 563.6,199.6 563.8,200.6 563.9,197.0 564.1,198.8 564.2,199.5 564.4,199.2 564.5,199.1 564.7,199.3 564.8,197.1 565.0,198.7 565.1,200.1 565.3,198.8 565.4,198.6 565.6,199.8 565.7,196.9 565.9,199.3 566.0,200.5 566.2,198.6 566.3,197.9 566.5,199.4 566.6,198.3 566.8,197.9 566.9,199.0 567.1,197.0 567.2,199.6 567.4,197.5 567.5,198.3 567.7,199.6 567.8,198.8 568.0,199.1 568.1,200.4 568.3,200.5 568.4,201.1 568.6,198.3 568.7,199.9 568.9,197.1 569.0,199.7 569.2,200.3 569.3,198.1 569.5,199.4 569.6,199.8 569.8,198.7 569.9,198.2 570.1,200.5 570.2,197.5 570.4,199.1 570.5,199.9 570.7,199.2 570.8,200.6 571.0,200.5 571.1,199.4 571.3,200.8 571.4,199.7 571.6,197.6 571.7,198.6 571.9,199.2 572.0,199.1 572.2,197.2 572.3,201.2 572.5,197.3 572.6,197.8 572.8,199.4 572.9,199.1 573.1,200.5 573.2,199.2 573.4,199.3 573.5,199.7 573.7,198.2 573.8,197.6 574.0,198.5 574.1,200.0 574.3,198.7 574.4,200.2 574.6,198.4 574.7,199.7 574.9,199.0 575.0,199.8 575.2,199.0 575.3,199.2 575.5,198.5 575.6,200.3 575.8,199.0 575.9,199.5 576.1,199.7 576.2,198.1 576.4,198.2 576.5,199.0 576.7,200.3 576.8,198.0 577.0,198.0 577.1,198.0 577.3,198.6 577.4,198.0 577.6,198.2 577.7,199.5 577.9,197.9 578.0,199.0 578.2,197.9 578.3,198.8 578.5,199.5 578.6,197.1 578.8,199.1 578.9,199.3 579.1,199.0 579.2,199.3 579.4,199.5 579.5,197.8 579.7,198.9 579.8,199.7 580.0,200.3 580.1,197.7 580.3,198.5 580.4,197.7 580.6,199.1 580.7,198.0 580.9,198.1 581.0,199.8 581.2,201.2 581.3,197.1 581.5,200.7 581.6,198.2 581.8,199.7 581.9,199.4 582.1,200.3 582.2,198.9 582.4,198.3 582.5,199.0 582.7,199.9 582.8,198.3 583.0,199.5 583.1,199.1 583.3,199.3 583.4,199.1 583.6,199.7 583.7,199.9 583.9,198.9 584.0,198.8 584.2,197.1 584.3,198.3 584.5,197.7 584.6,199.8 584.8,198.1 584.9,198.5 585.1,199.6 585.2,200.1 585.4,200.3 585.5,198.4 585.7,199.4 585.8,200.1 586.0,198.4 586.1,199.0 586.3,198.1 586.4,198.6 586.6,199.8 586.7,199.3 586.9,198.8 587.0,198.7 587.2,200.6 587.3,199.9 587.5,198.1 587.6,201.1 587.8,198.8 587.9,199.1 588.1,198.8 588.2,198.7 588.4,199.8 588.5,197.9 588.7,199.2 588.8,198.9 589.0,200.8 589.1,199.6 589.3,199.6 589.4,199.7 589.6,199.7 589.7,199.3 589.9,197.4 590.0,199.6 590.2,199.0 590.3,199.9 590.5,199.5 590.6,198.8 590.8,198.5 590.9,198.4 591.1,199.5 591.2,199.2 591.4,198.5 591.5,198.9 591.7,199.6 591.8,198.7 592.0,199.2 592.1,198.7 592.3,197.4 592.4,199.3 592.6,199.3 592.7,200.0 592.9,200.4 593.0,198.7 593.2,199.8 593.3,199.5 593.5,199.4 593.6,200.0 593.8,200.0 593.9,198.2 594.1,200.5 594.2,199.2 594.4,198.7 594.5,198.7 594.7,199.1 594.8,198.4 595.0,200.2 595.1,199.7 595.3,198.6 595.4,200.0 595.6,199.5 595.7,199.4 595.9,200.1 596.0,199.3 596.2,199.1 596.3,199.7 596.5,197.8 596.6,198.4 596.8,199.8 596.9,200.2 597.1,198.0 597.2,199.4 597.4,198.8 597.5,199.1 597.7,199.8 597.8,200.6 598.0,200.8 598.1,200.1 598.3,199.9 598.4,199.5 598.6,197.9 598.7,199.7 598.9,198.4 599.0,198.5 599.2,199.5 599.3,198.1 599.5,200.8 599.6,199.9 599.8,199.7 599.9,199.8 600.1,199.6 600.2,199.5 600.4,200.0 600.5,198.9 600.7,199.6 600.8,199.5 601.0,200.0 601.1,198.6 601.3,199.6 601.4,199.3 601.6,199.9 601.7,199.8 601.9,199.6 602.0,199.8 602.2,199.8 602.3,200.5 602.5,199.7 602.6,199.9 602.8,198.8 602.9,199.3 603.1,200.0 603.2,200.2 603.4,198.8 603.5,199.5 603.7,199.3 603.8,199.5 604.0,199.2 604.1,199.2 604.3,199.5 604.4,199.6 604.6,200.2 604.7,199.0 604.9,198.9 605.0,200.1 605.2,199.9 605.3,199.4 605.5,198.8 605.6,200.2 605.8,198.9 605.9,200.3 606.1,199.7 606.2,199.5 606.4,199.5 606.5,200.1 606.7,199.6 606.8,198.5 607.0,199.2 607.1,198.3 607.3,199.8 607.4,200.2 607.6,200.2 607.7,198.8 607.9,200.9 608.0,200.7 608.2,199.6 608.3,198.5 608.5,199.1 608.6,200.2 608.8,200.8 608.9,199.3 609.1,198.6 609.2,199.1 609.4,200.7 609.5,199.7 609.7,198.9 609.8,198.5 610.0,200.0 610.1,200.1 610.5,199.4 610.8,199.6 611.2,199.8 611.5,199.6 611.9,199.5 612.2,199.5 612.6,199.5 612.9,200.3 613.3,200.0 613.6,200.3 614.0,200.6 614.3,198.9 614.7,199.8 615.0,200.2 615.4,199.7 615.7,199.6 616.1,200.0 616.4,199.6 616.8,199.5 617.1,199.8 617.5,199.9 617.8,199.9 618.2,200.3 618.5,199.9 618.9,199.7 619.2,200.8 619.6,199.9 619.9,199.9 620.3,199.9 620.6,199.7 621.0,199.4 621.3,200.1 621.7,200.6 622.0,199.3 622.4,199.7 622.7,200.2 623.1,199.8 623.4,200.3 623.8,200.1 624.1,199.6 624.5,200.0 624.8,199.9 625.2,200.3 625.5,199.3 625.9,200.3 626.2,200.7 626.6,200.2 626.9,200.3 627.3,200.0 627.6,200.3 628.0,200.1 628.3,199.7 628.7,199.8 629.0,199.4 629.4,200.4 629.7,200.3 630.1,200.7 630.4,200.4 630.8,200.5 631.1,199.8 631.5,199.6 631.8,200.1 632.2,200.2 632.5,200.5 632.9,200.3 633.2,200.3 633.6,200.4 633.9,200.5 634.3,200.5 634.6,200.5 635.0,200.2 635.3,200.4 635.7,199.9 636.0,200.0 636.4,200.3 636.7,200.6 637.1,200.2 637.4,199.9 637.8,200.8 638.1,200.2 638.5,199.9 638.8,200.1 639.2,200.1 639.5,199.7 639.9,200.4 640.2,201.2 640.6,200.3 640.9,200.3 641.3,201.0 641.6,200.6 642.0,200.6 642.3,201.1 642.7,200.2 643.0,200.6 643.4,200.8 643.7,200.7 644.1,200.2 644.4,200.3 644.8,201.3 645.1,200.7 645.5,200.6 645.8,201.1 646.2,200.1 646.5,200.7 646.9,200.1 647.2,201.2 647.6,200.4 647.9,200.8 648.3,200.5 648.6,200.8 649.0,200.9 649.3,200.8 649.7,200.7 650.0,200.9 650.4,200.8 650.7,200.7 651.1,201.1 651.4,201.2 651.8,200.4 652.1,200.5 652.5,200.6 652.8,201.0 653.2,200.4 653.5,201.5 653.9,201.0 654.2,201.0 654.6,201.3 654.9,200.7 655.3,201.1 655.6,201.1 656.0,201.4 656.3,200.7 656.7,201.5 657.0,201.2 657.4,201.1 657.7,201.4 658.1,201.0 658.4,201.0 658.8,201.4 659.1,201.0"/>
<polyline fill="none" stroke="#4F81BD" stroke-width="2.0" stroke-linejoin="round" points="73.0,172.5 73.3,172.6 73.7,172.4 74.0,172.4 74.4,172.3 74.7,172.3 75.1,172.6 75.4,172.3 75.8,172.4 76.1,172.4 76.5,172.3 76.8,172.3 77.2,172.3 77.5,172.6 77.9,172.4 78.2,172.5 78.6,172.6 78.9,172.5 79.3,172.5 79.6,172.3 80.0,172.3 80.3,172.5 80.7,172.5 81.0,172.2 81.4,172.5 81.7,172.4 82.1,172.4 82.4,172.5 82.8,172.6 83.1,172.2 83.5,172.3 83.8,172.5 84.2,172.3 84.5,172.4 84.9,172.3 85.2,172.1 85.6,172.2 85.9,172.4 86.3,172.2 86.6,172.1 87.0,172.2 87.3,172.3 87.7,172.4 88.0,172.3 88.4,172.4 88.7,172.1 89.1,172.2 89.4,172.2 89.8,172.2 90.1,172.3 90.5,172.5 90.8,172.2 91.2,172.4 91.5,172.4 91.9,172.1 92.2,172.2 92.6,172.3 92.9,172.1 93.3,172.5 93.6,172.0 94.0,172.1 94.3,172.4 94.7,172.1 95.0,172.3 95.4,172.1 95.7,172.4 96.1,172.2 96.4,172.3 96.8,172.4 97.1,172.0 97.5,172.1 97.8,172.0 98.2,172.1 98.5,172.3 98.9,172.2 99.2,172.3 99.6,172.4 99.9,172.4 100.3,172.3 100.6,172.1 101.0,172.1 101.3,172.2 101.7,172.3 102.0,172.3 102.4,172.2 102.7,172.1 103.1,172.2 103.4,172.4 103.8,172.2 104.1,172.5 104.5,172.1 104.8,172.3 105.2,172.2 105.5,172.3 105.9,172.1 106.2,172.2 106.6,172.2 106.9,172.1 107.3,172.0 107.6,171.9 108.0,172.1 108.3,172.2 108.7,172.2 109.0,172.2 109.4,172.2 109.7,171.9 110.1,172.3 110.4,172.1 110.8,172.0 111.1,172.0 111.5,172.3 111.8,172.2 112.2,171.9 112.5,172.4 112.9,171.9 113.2,172.4 113.6,172.2 113.9,172.0 114.3,172.3 114.6,172.3 115.0,172.3 115.3,172.2 115.7,172.1 116.0,172.1 116.4,172.0 116.7,172.1 117.1,172.3 117.4,172.1 117.8,172.4 118.1,171.8 118.5,172.1 118.8,171.8 119.2,171.8 119.5,172.1 119.9,172.0 120.2,172.0 120.6,171.9 120.9,172.0 121.3,171.8 121.6,172.0 122.0,172.0 122.3,171.9 122.7,172.1 123.0,171.8 123.4,172.1 123.7,172.1 124.1,172.1 124.4,172.1 124.8,172.2 125.1,172.0 125.5,171.9 125.8,172.1 126.2,171.9 126.5,172.0 126.9,172.0 127.2,171.9 127.6,172.2 127.9,171.8 128.3,172.2 128.6,172.0 129.0,172.3 129.3,172.2 129.7,172.1 130.0,172.0 130.4,172.0 130.7,171.8 131.1,171.9 131.4,171.8 131.8,171.9 132.1,172.0 132.5,171.8 132.8,172.0 133.2,171.9 133.5,171.9 133.9,172.0 134.2,172.0 134.6,171.7 134.9,171.9 135.3,172.3 135.6,172.0 136.0,172.0 136.3,171.8 136.7,172.1 137.0,172.2 137.4,172.0 137.7,171.9 138.1,171.9 138.4,171.6 138.8,172.0 139.1,171.9 139.5,172.0 139.8,172.0 140.2,172.0 140.5,172.3 140.9,172.1 141.2,171.8 141.6,172.0 141.9,172.0 142.3,171.9 142.6,172.1 143.0,171.8 143.3,171.6 143.7,171.7 144.0,172.0 144.4,171.7 144.7,171.9 145.1,171.6 145.4,172.0 145.8,171.8 146.1,171.7 146.5,171.8 146.8,171.8 147.2,172.0 147.5,171.9 147.9,171.8 148.2,171.9 148.6,172.0 148.9,171.9 149.3,172.2 149.6,171.7 150.0,172.0 150.3,171.9 150.7,171.7 151.0,172.0 151.4,172.0 151.7,172.0 152.1,171.9 152.4,171.7 152.8,171.9 153.1,171.9 153.5,172.1 153.8,171.8 154.2,171.9 154.5,172.1 154.9,171.8 155.2,171.7 155.6,171.9 155.9,172.0 156.3,171.8 156.6,171.5 157.0,171.7 157.3,172.0 157.7,171.7 158.0,172.0 158.4,171.8 158.7,171.6 159.1,171.9 159.4,171.4 159.8,171.4 160.1,171.5 160.5,171.9 160.8,171.7 161.2,171.9 161.5,171.8 161.9,171.8 162.2,171.7 162.6,171.7 162.9,172.0 163.3,171.9 163.6,171.5 164.0,171.9 164.3,172.2 164.7,171.9 165.0,171.5 165.4,171.9 165.7,171.8 166.1,171.7 166.4,171.9 166.8,172.0 167.1,171.6 167.5,171.8 167.8,171.6 168.2,171.7 168.5,172.1 168.9,171.6 169.2,171.8 169.6,171.8 169.9,171.7 170.3,171.5 170.6,171.8 171.0,171.5 171.3,171.9 171.7,171.7 172.0,171.7 172.4,171.6 172.7,171.5 173.1,171.4 173.4,171.7 173.8,171.7 174.1,171.7 174.5,171.6 174.8,171.8 175.2,171.7 175.5,171.7 175.9,171.6 176.2,171.7 176.6,171.8 176.9,171.5 177.3,171.4 177.6,171.7 178.0,171.7 178.3,171.6 178.7,171.7 179.0,171.3 179.4,171.4 179.7,171.6 180.1,171.6 180.4,171.3 180.8,171.7 181.1,171.1 181.5,171.9 181.8,171.3 182.2,171.5 182.5,171.3 182.9,171.3 183.2,171.5 183.6,171.1 183.9,171.5 184.3,171.6 184.6,171.5 185.0,171.6 185.3,171.2 185.7,171.1 186.0,171.2 186.4,171.8 186.7,171.6 187.1,171.1 187.4,172.0 187.8,171.7 188.1,171.8 188.5,171.8 188.8,171.9 189.2,171.1 189.5,171.6 189.9,171.3 190.2,172.1 190.6,171.7 190.9,171.5 191.3,171.5 191.6,170.9 192.0,171.5 192.3,171.3 192.7,171.9 193.0,171.7 193.4,171.5 193.7,171.4 194.1,171.8 194.4,171.3 194.8,171.8 195.1,171.5 195.5,171.4 195.8,171.6 196.2,172.0 196.5,171.0 196.9,171.7 197.2,171.7 197.6,171.4 197.9,171.9 198.3,171.7 198.6,171.6 199.0,171.2 199.3,171.6 199.7,171.1 200.0,171.6 200.4,172.1 200.7,171.2 201.1,171.9 201.4,171.1 201.8,171.4 202.1,171.6 202.5,171.0 202.8,171.5 203.2,171.2 203.5,171.2 203.9,171.7 204.2,171.4 204.6,171.5 204.9,171.4 205.3,171.5 205.6,171.9 206.0,171.4 206.3,171.3 206.7,171.4 207.0,171.6 207.4,171.5 207.7,170.7 208.1,171.3 208.4,171.5 208.8,172.0 209.1,171.2 209.5,171.3 209.8,171.0 210.2,171.3 210.5,170.8 210.9,171.1 211.2,171.3 211.6,170.9 211.9,171.3 212.3,171.1 212.6,171.7 213.0,171.8 213.3,172.0 213.7,171.4 214.0,171.5 214.4,172.0 214.7,171.1 215.1,171.8 215.4,171.0 215.8,171.6 216.1,170.8 216.5,171.2 216.8,171.2 217.2,171.2 217.5,170.7 217.9,171.3 218.2,171.2 218.6,171.8 218.9,171.5 219.3,170.6 219.6,171.3 220.0,171.6 220.3,171.2 220.7,171.0 221.0,170.8 221.4,171.1 221.7,170.9 222.1,171.2 222.4,171.1 222.8,171.7 223.1,170.9 223.5,171.3 223.8,170.9 224.2,171.3 224.5,171.6 224.9,171.0 225.2,170.8 225.6,171.2 225.9,171.2 226.3,171.0 226.6,171.3 227.0,171.2 227.3,171.4 227.7,170.7 228.0,171.4 228.4,171.6 228.7,170.9 229.1,171.8 229.4,171.3 229.8,170.7 230.1,170.8 230.5,170.9 230.8,171.0 231.2,171.1 231.5,171.3 231.9,171.1 232.2,171.0 232.6,170.8 232.9,170.5 233.3,170.9 233.6,170.7 234.0,171.4 234.3,170.4 234.7,171.5 235.0,170.4 235.4,171.1 235.7,171.1 236.1,170.7 236.4,170.8 236.8,171.4 237.1,170.7 237.5,171.1 237.8,171.1 238.2,171.3 238.5,170.7 238.9,171.6 239.2,171.0 239.6,171.4 239.9,170.6 240.3,171.5 240.6,171.0 241.0,171.3 241.3,170.9 241.7,171.4 242.0,171.1 242.4,170.4 242.7,171.8 243.1,170.8 243.4,171.2 243.8,171.0 244.1,170.9 244.5,170.9 244.8,171.4 245.2,171.4 245.5,171.4 245.9,170.5 246.2,171.3 246.6,170.5 246.9,171.8 247.3,171.2 247.6,171.4 248.0,171.0 248.3,171.1 248.7,170.8 249.0,171.7 249.4,170.9 249.7,171.4 250.1,170.7 250.4,170.9 250.8,170.9 251.1,170.9 251.5,170.8 251.8,171.2 252.2,171.2 252.5,170.4 252.9,170.8 253.2,170.5 253.6,171.4 253.9,170.5 254.3,171.1 254.6,171.0 255.0,170.9 255.3,170.2 255.7,171.6 256.0,170.9 256.4,171.2 256.7,171.3 257.1,170.6 257.4,170.6 257.8,171.6 258.1,171.6 258.5,170.6 258.8,170.9 259.2,171.3 259.5,170.9 259.9,171.4 260.2,171.1 260.6,170.9 260.9,171.2 261.3,170.7 261.6,171.4 262.0,170.6 262.3,171.4 262.7,171.7 263.0,170.2 263.4,171.5 263.7,170.3 264.1,170.8 264.4,171.6 264.8,171.3 265.1,171.1 265.5,171.0 265.8,170.9 266.2,171.0 266.5,170.8 266.9,170.7 267.2,170.4 267.6,171.5 267.9,170.8 268.3,171.6 268.6,171.1 269.0,171.0 269.3,170.4 269.7,170.7 270.0,170.8 270.4,170.8 270.7,170.7 271.1,170.0 271.4,170.7 271.8,170.7 272.1,170.6 272.5,170.7 272.8,170.2 273.2,170.5 273.5,171.4 273.9,170.4 274.2,170.6 274.6,170.5 274.9,170.7 275.3,170.6 275.6,171.6 276.0,170.4 276.3,171.3 276.7,170.6 277.0,170.9 277.4,171.6 277.7,170.7 278.1,170.7 278.4,169.9 278.8,170.6 279.1,170.7 279.5,170.8 279.8,170.8 280.2,170.3 280.5,170.4 280.9,171.0 281.2,170.6 281.6,170.7 281.9,171.0 282.3,170.8 282.6,170.8 283.0,170.3 283.3,170.7 283.7,170.0 284.0,171.4 284.4,170.4 284.7,171.4 285.1,170.5 285.4,170.6 285.8,171.2 286.1,170.8 286.5,170.8 286.8,170.6 287.2,170.6 287.5,170.4 287.9,170.4 288.2,169.9 288.6,170.6 288.9,170.3 289.3,171.2 289.6,171.5 290.0,171.4 290.3,170.2 290.7,170.5 291.0,170.6 291.4,170.0 291.7,171.3 292.1,170.9 292.4,170.7 292.8,171.4 293.1,170.8 293.5,170.5 293.8,170.7 294.2,170.4 294.5,170.8 294.9,170.1 295.2,170.8 295.6,170.5 295.9,170.4 296.3,170.4 296.6,170.5 297.0,169.9 297.3,170.8 297.7,170.5 298.0,171.3 298.4,170.6 298.7,171.0 299.1,170.6 299.4,170.5 299.8,170.0 300.1,170.4 300.5,170.3 300.8,169.4 301.2,170.4 301.3,170.1 301.5,170.7 301.6,171.2 301.8,170.4 301.9,171.4 302.1,171.4 302.2,171.1 302.4,170.3 302.5,170.6 302.7,171.8 302.8,171.8 303.0,171.5 303.1,169.1 303.3,168.6 303.4,172.1 303.6,171.2 303.7,171.8 303.9,171.1 304.0,170.3 304.2,171.0 304.3,170.5 304.5,172.4 304.6,171.6 304.8,169.3 304.9,169.5 305.1,172.1 305.2,172.0 305.4,171.1 305.5,171.2 305.7,168.5 305.8,169.2 306.0,171.4 306.1,167.6 306.3,171.4 306.4,171.5 306.6,171.6 306.7,171.9 306.9,173.5 307.0,171.0 307.2,169.3 307.3,168.0 307.5,167.3 307.6,170.7 307.8,171.8 307.9,168.2 308.1,170.8 308.2,169.5 308.4,170.2 308.5,170.8 308.7,170.6 308.8,169.0 309.0,171.5 309.1,170.4 309.3,168.1 309.4,171.5 309.6,172.5 309.7,170.0 309.9,172.5 310.0,168.6 310.2,170.2 310.3,172.1 310.5,172.1 310.6,171.1 310.8,171.8 310.9,170.0 311.1,171.4 311.2,171.6 311.4,171.6 311.5,170.9 311.7,171.5 311.8,171.0 312.0,171.2 312.1,168.7 312.3,171.2 312.4,169.4 312.6,170.0 312.7,170.5 312.9,170.8 313.0,169.0 313.2,169.9 313.3,170.7 313.5,170.0 313.6,170.5 313.8,170.7 313.9,170.7 314.1,169.8 314.2,170.7 314.4,171.1 314.5,169.0 314.7,171.3 314.8,169.3 315.0,170.8 315.1,171.1 315.3,171.1 315.4,169.2 315.6,169.4 315.7,169.2 315.9,171.0 316.0,170.6 316.2,168.5 316.3,171.2 316.5,171.7 316.6,169.9 316.8,170.3 316.9,170.7 317.1,169.4 317.2,170.0 317.4,171.0 317.5,170.1 317.7,170.4 317.8,170.5 318.0,172.2 318.1,170.7 318.3,170.7 318.4,169.9 318.6,171.7 318.7,170.5 318.9,170.4 319.0,171.7 319.2,171.7 319.3,169.5 319.5,170.1 319.6,171.7 319.8,169.9 319.9,171.9 320.1,170.2 320.2,172.3 320.4,169.4 320.5,168.5 320.7,169.0 320.8,172.3 321.0,169.7 321.1,170.0 321.3,169.9 321.4,169.8 321.6,170.5 321.7,170.4 321.9,169.9 322.0,170.7 322.2,172.3 322.5,173.5 322.9,174.9 323.2,176.4 323.6,177.5 323.9,179.3 324.3,181.0 324.6,181.9 325.0,183.9 325.3,184.5 325.7,186.1 326.0,187.7 326.4,189.3 326.7,190.8 327.1,192.4 327.4,194.3 327.8,195.4 328.1,197.0 328.5,198.2 328.8,199.7 329.2,201.5 329.5,202.9 329.9,204.8 330.2,206.1 330.6,207.1 330.9,209.2 331.3,210.2 331.6,211.9 332.0,213.3 332.3,214.8 332.7,216.4 333.0,217.7 333.4,219.3 333.7,219.4 334.1,219.7 334.4,219.7 334.8,219.9 335.1,219.1 335.5,219.4 335.8,219.7 336.2,219.2 336.5,219.4 336.9,219.6 337.2,219.8 337.6,219.5 337.9,219.5 338.3,219.3 338.6,219.5 339.0,219.4 339.3,219.4 339.7,219.2 340.0,219.3 340.4,219.1 340.7,219.0 341.1,219.1 341.4,219.1 341.8,219.1 342.1,219.1 342.5,218.9 342.8,219.3 343.2,219.3 343.5,219.6 343.9,218.7 344.2,218.9 344.6,219.0 344.9,219.0 345.3,219.2 345.6,219.0 346.0,219.0 346.3,219.3 346.7,219.1 347.0,218.7 347.4,219.4 347.7,219.6 348.1,219.4 348.4,219.0 348.8,219.4 349.1,219.0 349.5,219.0 349.8,219.1 350.2,219.4 350.5,219.1 350.9,218.9 351.2,218.4 351.6,217.3 351.9,215.5 352.3,214.2 352.6,212.4 353.0,211.0 353.3,209.5 353.7,208.0 354.0,206.4 354.4,205.5 354.7,203.8 355.1,202.0 355.4,200.4 355.8,199.4 356.1,197.5 356.5,196.2 356.8,194.8 357.2,193.8 357.5,194.0 357.9,194.0 358.2,193.8 358.6,193.9 358.9,193.7 359.3,193.3 359.6,193.8 360.0,194.3 360.3,194.1 360.7,194.4 361.0,193.9 361.4,194.1 361.7,193.7 362.1,193.7 362.4,193.7 362.8,194.0 363.1,194.1 363.5,193.4 363.8,194.0 364.2,194.1 364.5,194.1 364.9,193.5 365.2,193.9 365.6,193.9 365.9,193.5 366.3,193.6 366.6,194.4 367.0,193.7 367.3,193.7 367.7,193.4 368.0,193.7 368.4,194.2 368.7,193.9 369.1,193.6 369.4,193.8 369.8,193.9 370.1,194.0 370.5,193.6 370.8,193.9 371.2,193.7 371.6,193.7 371.9,193.6 372.3,193.6 372.6,193.9 373.0,193.4 373.3,193.9 373.7,194.4 374.0,193.6 374.4,193.7 374.7,193.8 375.1,194.2 375.4,193.4 375.8,193.0 376.1,191.5 376.5,190.7 376.8,188.8 377.2,188.0 377.5,185.9 377.9,184.9 378.2,183.2 378.6,182.0 378.9,180.4 379.3,179.3 379.6,178.5 380.0,176.6 380.3,176.0 380.7,174.5 381.0,172.8 381.4,171.4 381.7,170.9 382.1,170.6 382.4,171.0 382.8,170.8 383.1,170.3 383.5,170.8 383.8,171.0 384.2,170.8 384.5,170.9 384.9,170.8 385.2,170.7 385.6,171.1 385.9,171.2 386.3,170.8 386.6,171.1 387.0,170.6 387.3,171.2 387.7,170.7 388.0,170.9 388.4,171.1 388.7,170.8 389.1,170.9 389.4,171.2 389.8,170.8 390.1,171.0 390.5,171.2 390.8,171.0 391.2,170.7 391.5,170.8 391.9,170.9 392.2,170.9 392.6,171.1 392.9,170.5 393.3,170.9 393.6,171.0 394.0,171.3 394.3,170.6 394.7,170.7 395.0,171.2 395.4,170.9 395.7,171.3 396.1,171.0 396.4,170.8 396.8,171.0 397.1,171.3 397.5,171.2 397.8,171.0 398.2,171.0 398.5,171.3 398.9,171.2 399.2,171.1 399.6,170.3 399.9,169.0 400.3,167.5 400.6,166.8 401.0,165.7 401.3,164.5 401.7,163.0 402.0,161.5 402.4,160.7 402.7,159.2 403.1,157.7 403.4,157.0 403.8,155.6 404.1,154.6 404.5,153.3 404.8,152.4 405.2,151.2 405.5,149.9 405.9,148.9 406.2,148.0 406.6,148.7 406.9,147.7 407.3,148.3 407.6,148.4 408.0,148.1 408.3,148.2 408.7,147.9 409.0,148.1 409.4,148.3 409.7,147.9 410.1,147.7 410.4,148.1 410.8,148.0 411.1,148.0 411.5,148.2 411.8,147.9 412.2,148.6 412.5,148.6 412.9,148.3 413.2,148.2 413.6,148.3 413.9,148.3 414.3,148.1 414.6,148.2 415.0,148.5 415.3,148.1 415.7,148.2 416.0,148.3 416.4,148.1 416.7,148.5 417.1,148.1 417.4,148.7 417.8,148.6 418.1,148.4 418.5,148.7 418.8,148.8 419.2,148.4 419.5,148.5 419.9,148.3 420.2,148.4 420.6,148.4 420.9,148.5 421.3,148.7 421.6,149.1 422.0,148.6 422.3,148.8 422.7,148.5 423.0,149.0 423.4,148.6 423.7,148.1 424.1,146.6 424.4,145.2 424.8,143.6 425.1,142.3 425.5,141.2 425.8,139.3 426.2,137.5 426.5,135.8 426.9,134.7 427.2,133.0 427.6,131.6 427.9,130.3 428.3,128.9 428.6,127.4 429.0,126.1 429.3,124.1 429.7,122.7 430.0,122.0 430.4,121.9 430.7,122.1 431.1,122.0 431.4,122.4 431.8,122.0 432.1,122.9 432.5,121.7 432.8,122.5 433.2,121.9 433.5,122.2 433.9,122.0 434.2,122.4 434.6,122.5 434.9,122.3 435.3,122.2 435.6,122.1 436.0,122.2 436.3,122.2 436.7,122.2 437.0,122.5 437.4,122.7 437.7,122.3 438.1,121.9 438.4,122.4 438.8,122.7 439.1,122.2 439.5,122.6 439.8,122.2 440.2,122.2 440.5,122.6 440.9,122.1 441.2,122.5 441.6,122.0 441.9,122.3 442.3,122.7 442.6,122.5 443.0,122.4 443.3,122.8 443.7,122.4 444.0,122.4 444.4,122.6 444.7,122.7 445.1,122.7 445.4,122.7 445.8,123.1 446.1,122.9 446.5,122.7 446.8,123.4 447.2,122.3 447.5,122.9 447.9,121.4 448.2,120.5 448.6,118.3 448.9,116.7 449.3,114.9 449.6,113.5 450.0,111.2 450.3,109.9 450.7,107.5 451.0,106.4 451.4,104.9 451.7,103.1 452.1,101.4 452.4,99.0 452.8,97.8 453.1,96.0 453.5,94.8 453.8,93.3 454.2,93.4 454.5,93.6 454.9,93.3 455.2,92.8 455.6,93.0 455.9,92.6 456.3,93.6 456.6,93.2 457.0,92.9 457.3,93.4 457.7,93.1 458.0,93.2 458.4,93.6 458.7,92.7 459.1,92.8 459.4,93.2 459.8,93.2 460.1,93.6 460.5,93.2 460.8,93.4 461.2,93.8 461.5,92.9 461.9,92.9 462.2,93.1 462.6,93.2 462.9,93.0 463.3,93.4 463.6,93.1 464.0,93.6 464.3,93.4 464.7,93.5 465.0,93.4 465.4,93.4 465.7,92.9 466.1,93.3 466.4,92.8 466.8,93.7 467.1,93.0 467.5,93.1 467.8,93.2 468.2,94.0 468.5,93.0 468.9,93.8 469.2,93.4 469.6,94.0 469.9,93.3 470.3,93.2 470.6,93.4 471.0,93.2 471.3,93.2 471.7,93.6 472.0,91.5 472.4,89.9 472.7,87.8 473.1,85.9 473.4,84.0 473.8,81.9 474.1,79.3 474.5,77.9 474.8,74.9 475.2,73.9 475.5,71.8 475.9,69.2 476.2,67.8 476.6,64.9 476.9,63.7 477.3,61.3 477.6,59.3 478.0,59.3 478.3,59.2 478.7,59.6 479.0,59.4 479.4,59.4 479.7,59.4 480.1,59.3 480.4,59.1 480.8,59.6 481.1,59.6 481.5,59.1 481.8,59.7 482.2,59.8 482.5,59.4 482.9,59.8 483.2,58.8 483.6,59.8 483.9,59.2 484.3,59.5 484.6,59.1 485.0,60.0 485.3,59.3 485.7,59.6 486.0,59.0 486.4,59.3 486.7,59.5 487.1,59.4 487.4,59.2 487.8,59.8 488.1,58.9 488.5,59.4 488.8,59.3 489.2,59.3 489.5,59.6 489.9,59.5 490.2,59.3 490.6,59.6 490.9,59.4 491.3,59.5 491.6,59.8 492.0,59.5 492.3,59.4 492.7,59.2 493.0,59.8 493.4,59.7 493.7,59.5 494.1,59.5 494.4,59.1 494.8,59.4 495.1,59.5 495.5,59.1 495.8,59.1 496.2,59.3 496.5,60.4 496.9,59.6 497.0,58.3 497.2,60.4 497.3,60.2 497.5,60.8 497.6,60.6 497.8,61.8 497.9,64.1 498.1,64.2 498.2,65.6 498.4,64.4 498.7,66.6 499.1,69.0 499.4,70.9 499.8,72.9 500.1,75.1 500.5,77.2 500.8,78.5 501.2,80.9 501.5,83.0 501.9,84.8 502.2,87.0 502.6,88.9 502.9,90.4 503.3,92.5 503.6,94.5 504.0,95.9 504.3,97.7 504.7,99.7 505.0,101.1 505.4,102.7 505.7,104.8 506.1,106.1 506.4,107.8 506.8,109.0 507.1,111.1 507.5,112.3 507.8,114.0 508.2,115.6 508.5,117.0 508.9,119.1 509.2,120.3 509.6,122.4 509.9,123.7 510.3,125.8 510.6,127.2 511.0,129.0 511.3,130.1 511.7,132.1 512.0,133.8 512.4,135.3 512.7,136.9 513.1,138.4 513.4,139.6 513.8,141.9 514.1,143.1 514.5,144.8 514.8,146.8 515.2,147.8 515.5,149.7 515.9,151.7 516.2,153.2 516.6,154.8 516.9,156.3 517.3,158.1 517.6,159.3 518.0,161.2 518.3,163.1 518.7,164.4 519.0,166.2 519.4,167.8 519.7,169.2 520.1,170.6 520.4,172.4 520.8,173.9 520.9,174.0 521.1,174.5 521.2,174.8 521.4,175.1 521.5,174.9 521.7,173.5 521.8,175.9 522.0,174.9 522.1,175.3 522.3,173.2 522.4,175.7 522.6,176.9 522.7,175.0 522.9,175.7 523.0,173.9 523.2,174.7 523.3,174.4 523.5,175.2 523.6,174.6 523.8,174.7 523.9,173.5 524.1,173.2 524.2,174.4 524.4,176.8 524.5,173.4 524.7,175.0 524.8,175.8 525.0,173.7 525.1,172.7 525.3,174.8 525.4,174.3 525.6,173.5 525.7,176.0 525.9,175.1 526.0,174.3 526.2,172.9 526.3,175.7 526.5,175.5 526.6,175.2 526.8,176.1 526.9,173.2 527.1,173.3 527.2,175.2 527.4,174.8 527.5,174.2 527.7,173.8 527.8,175.4 528.0,174.5 528.1,175.2 528.3,173.1 528.4,174.3 528.6,174.7 528.7,175.3 528.9,172.5 529.0,174.0 529.2,173.5 529.3,174.2 529.5,174.1 529.6,174.7 529.8,175.0 529.9,174.5 530.1,174.1 530.2,175.1 530.4,175.7 530.5,174.2 530.7,173.3 530.8,176.0 531.0,175.1 531.1,176.5 531.3,173.7 531.4,173.7 531.6,173.9 531.7,174.0 531.9,172.5 532.0,175.0 532.2,172.5 532.3,171.7 532.5,174.0 532.6,172.9 532.8,174.3 532.9,172.8 533.1,172.6 533.2,171.9 533.4,172.7 533.5,173.7 533.7,176.3 533.8,174.7 534.0,173.3 534.1,175.4 534.3,174.3 534.4,172.0 534.6,172.1 534.7,172.4 534.9,173.4 535.0,174.0 535.2,173.3 535.3,173.4 535.5,172.9 535.6,174.1 535.8,174.8 535.9,172.8 536.1,175.3 536.2,173.0 536.4,173.6 536.5,175.6 536.7,174.5 536.8,173.9 537.0,172.0 537.1,174.0 537.3,173.5 537.4,173.7 537.6,174.9 537.7,173.3 537.9,175.5 538.0,173.9 538.2,174.0 538.3,173.6 538.5,173.9 538.6,174.9 538.8,174.0 538.9,173.0 539.1,173.2 539.2,174.7 539.4,174.2 539.5,173.1 539.7,173.7 539.8,173.8 540.0,174.2 540.1,173.1 540.3,173.8 540.4,172.8 540.6,173.2 540.7,173.6 540.9,174.6 541.0,173.6 541.2,174.7 541.3,173.9 541.5,174.4 541.6,173.6 541.8,172.7 541.9,172.5 542.1,173.4 542.4,174.6 542.8,173.5 543.1,173.3 543.5,173.9 543.8,173.4 544.2,173.4 544.5,173.6 544.9,173.7 545.2,173.2 545.6,173.1 545.9,174.3 546.3,173.1 546.6,173.0 547.0,173.4 547.3,173.4 547.7,173.5 548.0,174.1 548.4,174.0 548.7,173.3 549.1,173.4 549.4,173.8 549.8,173.3 550.1,173.4 550.5,172.8 550.8,173.5 551.2,173.3 551.5,172.7 551.9,173.4 552.2,174.2 552.6,173.5 552.9,173.0 553.3,173.8 553.6,173.5 554.0,173.4 554.3,173.9 554.7,173.7 555.0,174.1 555.4,173.1 555.7,173.2 556.1,173.3 556.4,173.4 556.8,173.0 557.1,173.5 557.5,172.9 557.8,173.2 558.2,173.3 558.5,173.5 558.9,173.5 559.2,173.2 559.6,173.5 559.9,173.5 560.3,173.4 560.6,173.4 561.0,173.2 561.3,173.9 561.7,173.8 562.0,173.5 562.4,173.8 562.7,173.2 563.1,173.3 563.4,173.3 563.8,173.6 564.1,173.3 564.5,173.2 564.8,173.0 565.2,173.1 565.5,173.7 565.9,173.6 566.2,173.0 566.6,174.0 566.9,173.3 567.3,173.3 567.6,173.4 568.0,173.5 568.3,173.4 568.7,173.5 569.0,173.7 569.4,173.7 569.7,173.3 570.1,173.4 570.4,173.3 570.8,173.4 571.1,173.5 571.5,173.4 571.8,173.7 572.2,173.3 572.5,173.6 572.9,173.7 573.2,173.4 573.6,173.4 573.9,173.7 574.3,173.4 574.6,173.4 575.0,173.6 575.3,173.0 575.7,173.7 576.0,173.6 576.4,173.7 576.7,173.2 577.1,173.4 577.4,173.7 577.8,173.7 578.1,173.4 578.5,173.4 578.8,174.0 579.2,173.6 579.5,173.9 579.9,173.2 580.2,173.7 580.6,173.4 580.9,173.5 581.3,173.9 581.6,173.3 582.0,173.4 582.3,173.4 582.7,173.5 583.0,173.6 583.4,173.7 583.7,173.9 584.1,173.7 584.4,174.0 584.8,173.9 585.1,173.8 585.5,173.6 585.8,174.0 586.2,173.6 586.5,173.9 586.9,173.6 587.2,173.5 587.6,173.8 587.9,173.8 588.3,173.7 588.6,173.9 589.0,173.7 589.3,173.5 589.7,173.7 590.0,174.1 590.4,173.4 590.7,173.3 591.1,173.7 591.4,173.4 591.8,174.0 592.1,173.7 592.5,173.5 592.8,173.7 593.2,173.5 593.5,173.8 593.9,173.9 594.2,174.0 594.6,173.9 594.9,173.7 595.3,174.0 595.6,173.8 596.0,173.4 596.3,174.0 596.7,173.5 597.0,173.6 597.4,173.4 597.7,173.6 598.1,173.3 598.4,173.5 598.8,173.6 599.1,173.5 599.5,173.7 599.8,173.9 600.2,173.7 600.5,173.9 600.9,174.1 601.2,173.6 601.6,174.3 601.9,173.8 602.3,173.8 602.6,174.0 603.0,174.5 603.3,173.2 603.7,174.2 604.0,173.6 604.4,173.8 604.7,173.4 605.1,173.0 605.4,174.2 605.8,174.1 606.1,173.5 606.5,173.6 606.8,173.5 607.2,173.8 607.5,174.3 607.9,173.8 608.2,173.5 608.6,174.0 608.9,173.7 609.3,173.6 609.6,173.9 610.0,173.8 610.3,173.9 610.7,174.0 611.0,174.0 611.4,173.5 611.7,173.9 612.1,174.1 612.4,174.1 612.8,173.7 613.1,173.6 613.5,173.7 613.8,174.0 614.2,173.9 614.5,174.0 614.9,173.9 615.2,173.7 615.6,173.7 615.9,173.9 616.3,174.1 616.6,174.2 617.0,173.7 617.3,174.0 617.7,173.9 618.0,173.7 618.4,173.7 618.7,174.2 619.1,173.9 619.4,173.9 619.8,174.0 620.1,174.0 620.5,174.1 620.8,173.8 621.2,173.9 621.5,174.0 621.9,174.0 622.2,173.8 622.6,173.7 622.9,174.1 623.3,174.1 623.6,174.1 624.0,174.0 624.3,173.7 624.7,173.9 625.0,174.3 625.4,174.0 625.7,174.0 626.1,173.7 626.4,173.9 626.8,174.2 627.1,174.1 627.5,174.0 627.8,174.2 628.2,174.1 628.5,174.1 628.9,174.0 629.2,174.1 629.6,174.2 629.9,174.1 630.3,173.8 630.6,174.0 631.0,174.0 631.3,174.1 631.7,174.3 632.0,174.0 632.4,174.0 632.7,174.2 633.1,174.1 633.4,173.9 633.8,174.1 634.1,174.1 634.5,174.1 634.8,173.8 635.2,173.8 635.5,173.8 635.9,173.8 636.2,174.2 636.6,174.3 636.9,173.9 637.3,174.3 637.6,173.9 638.0,174.0 638.3,174.5 638.7,173.9 639.0,174.2 639.4,174.2 639.7,174.3 640.1,174.2 640.4,174.2 640.8,174.4 641.1,174.1 641.5,174.2 641.8,174.2 642.2,174.1 642.5,174.1 642.9,174.3 643.2,174.4 643.6,174.3 643.9,174.1 644.3,174.1 644.6,174.1 645.0,174.1 645.3,174.1 645.7,174.2 646.0,174.1 646.4,174.4 646.7,174.0 647.1,174.1 647.4,174.3 647.8,174.1 648.1,174.1 648.5,174.3 648.8,174.2 649.2,174.1 649.5,174.2 649.9,174.3 650.2,174.0 650.6,174.4 650.9,174.0 651.3,174.3 651.6,174.0 652.0,174.3 652.3,174.2 652.7,174.4 653.0,174.2 653.4,174.2 653.7,174.1 654.1,174.3 654.4,174.2 654.8,174.4 655.1,174.3 655.5,174.5 655.8,174.4 656.2,174.3 656.5,174.3 656.9,174.4 657.2,174.4 657.6,174.1 657.9,174.3 658.3,174.2 658.6,174.3 659.0,174.4 659.3,174.0"/>
<polyline fill="none" stroke="#C0504D" stroke-width="2.15" stroke-linejoin="round" points="73.0,104.8 73.3,105.0 73.7,104.5 74.0,104.8 74.4,104.8 74.7,104.7 75.1,105.0 75.4,105.0 75.8,104.8 76.1,105.0 76.5,105.1 76.8,104.8 77.2,104.9 77.5,104.9 77.9,105.1 78.2,104.9 78.6,104.9 78.9,104.8 79.3,104.9 79.6,105.1 80.0,104.8 80.3,104.8 80.7,104.6 81.0,105.2 81.4,104.7 81.7,104.7 82.1,104.7 82.4,105.0 82.8,104.8 83.1,104.4 83.5,104.8 83.8,105.1 84.2,104.8 84.5,104.8 84.9,105.2 85.2,104.7 85.6,104.7 85.9,104.9 86.3,105.2 86.6,104.8 87.0,104.5 87.3,104.7 87.7,104.7 88.0,104.9 88.4,104.7 88.7,104.8 89.1,104.5 89.4,104.5 89.8,104.8 90.1,105.1 90.5,104.6 90.8,104.5 91.2,105.0 91.5,104.8 91.9,104.9 92.2,104.7 92.6,104.8 92.9,104.7 93.3,104.8 93.6,105.1 94.0,104.7 94.3,104.7 94.7,104.8 95.0,104.7 95.4,105.1 95.7,104.7 96.1,104.8 96.4,104.5 96.8,104.8 97.1,104.9 97.5,104.9 97.8,104.5 98.2,104.6 98.5,104.3 98.9,105.0 99.2,104.7 99.6,105.0 99.9,105.1 100.3,104.9 100.6,104.6 101.0,104.7 101.3,104.9 101.7,104.4 102.0,105.0 102.4,105.0 102.7,104.9 103.1,104.7 103.4,104.8 103.8,104.4 104.1,104.6 104.5,104.6 104.8,104.6 105.2,105.0 105.5,104.8 105.9,104.3 106.2,104.9 106.6,104.8 106.9,104.7 107.3,104.6 107.6,105.1 108.0,104.8 108.3,104.8 108.7,104.4 109.0,104.6 109.4,104.9 109.7,104.7 110.1,104.6 110.4,104.7 110.8,104.4 111.1,104.3 111.5,104.8 111.8,104.4 112.2,104.4 112.5,104.8 112.9,104.9 113.2,104.6 113.6,104.9 113.9,104.7 114.3,104.3 114.6,105.0 115.0,104.5 115.3,105.0 115.7,104.6 116.0,104.7 116.4,104.6 116.7,104.5 117.1,104.8 117.4,105.0 117.8,104.9 118.1,104.6 118.5,104.8 118.8,104.9 119.2,104.8 119.5,104.5 119.9,105.1 120.2,104.6 120.6,104.5 120.9,104.7 121.3,104.7 121.6,104.6 122.0,104.4 122.3,104.5 122.7,104.7 123.0,104.3 123.4,104.9 123.7,104.8 124.1,104.7 124.4,104.7 124.8,104.5 125.1,104.6 125.5,104.8 125.8,104.6 126.2,105.0 126.5,104.8 126.9,104.8 127.2,104.6 127.6,104.5 127.9,104.6 128.3,104.5 128.6,104.6 129.0,104.6 129.3,104.6 129.7,104.9 130.0,104.5 130.4,104.5 130.7,104.9 131.1,104.7 131.4,104.7 131.8,104.5 132.1,104.7 132.5,104.9 132.8,104.7 133.2,104.7 133.5,104.9 133.9,104.8 134.2,104.9 134.6,104.4 134.9,104.3 135.3,104.4 135.6,104.7 136.0,104.5 136.3,104.3 136.7,105.0 137.0,104.9 137.4,104.5 137.7,104.5 138.1,104.5 138.4,104.8 138.8,104.7 139.1,104.7 139.5,104.9 139.8,104.5 140.2,104.4 140.5,104.6 140.9,104.6 141.2,104.6 141.6,104.7 141.9,104.3 142.3,104.9 142.6,104.3 143.0,104.7 143.3,104.7 143.7,104.8 144.0,104.7 144.4,104.5 144.7,104.6 145.1,104.4 145.4,104.6 145.8,104.6 146.1,104.3 146.5,105.0 146.8,104.5 147.2,104.7 147.5,104.8 147.9,104.6 148.2,104.5 148.6,104.4 148.9,104.5 149.3,104.5 149.6,104.6 150.0,104.7 150.3,104.6 150.7,104.9 151.0,104.6 151.4,104.6 151.7,104.2 152.1,104.5 152.4,104.6 152.8,104.3 153.1,104.5 153.5,104.4 153.8,104.4 154.2,104.5 154.5,104.4 154.9,104.4 155.2,104.5 155.6,104.5 155.9,104.3 156.3,104.6 156.6,104.4 157.0,104.5 157.3,104.7 157.7,104.7 158.0,104.7 158.4,104.3 158.7,104.4 159.1,104.4 159.4,104.3 159.8,104.3 160.1,104.4 160.5,104.5 160.8,104.7 161.2,104.2 161.5,104.3 161.9,104.1 162.2,104.2 162.6,103.8 162.9,104.6 163.3,103.9 163.6,104.2 164.0,103.9 164.3,104.1 164.7,104.0 165.0,103.8 165.4,103.9 165.7,104.1 166.1,104.1 166.4,103.7 166.8,104.2 167.1,104.0 167.5,103.9 167.8,104.3 168.2,103.9 168.5,104.1 168.9,104.3 169.2,104.0 169.6,103.9 169.9,103.6 170.3,102.9 170.6,102.6 171.0,102.1 171.3,101.6 171.7,101.4 172.0,100.9 172.4,100.7 172.7,100.4 173.1,99.9 173.4,100.1 173.8,99.9 174.1,99.8 174.5,99.9 174.8,99.7 175.2,99.2 175.5,99.7 175.9,99.2 176.2,98.8 176.6,98.9 176.9,99.0 177.3,98.6 177.6,98.5 178.0,98.4 178.3,98.7 178.7,98.6 179.0,98.9 179.4,98.7 179.7,98.7 180.1,98.5 180.4,98.8 180.8,98.3 181.1,98.6 181.5,98.6 181.8,98.4 182.2,98.3 182.5,98.7 182.9,98.8 183.2,98.5 183.6,98.8 183.9,98.5 184.3,98.4 184.6,98.3 185.0,98.2 185.3,98.5 185.7,98.3 186.0,98.2 186.4,98.4 186.7,98.4 187.1,98.1 187.4,98.1 187.8,97.8 188.1,97.7 188.5,97.4 188.8,97.2 189.2,96.7 189.5,96.8 189.9,96.9 190.2,96.4 190.6,96.3 190.9,96.2 191.3,95.7 191.6,95.7 192.0,95.5 192.3,95.4 192.7,95.2 193.0,94.9 193.4,94.7 193.7,94.7 194.1,94.5 194.4,94.1 194.8,94.5 195.1,94.2 195.5,93.9 195.8,93.9 196.2,93.6 196.5,93.7 196.9,93.3 197.2,93.7 197.6,93.5 197.9,93.1 198.3,93.3 198.6,92.8 199.0,92.9 199.3,92.7 199.7,92.9 200.0,92.8 200.4,92.3 200.7,92.5 201.1,92.4 201.4,92.2 201.8,92.6 202.1,91.8 202.5,92.3 202.8,92.2 203.2,91.8 203.5,91.6 203.9,92.0 204.2,91.3 204.6,91.6 204.9,91.3 205.3,91.4 205.6,91.3 206.0,91.1 206.3,91.3 206.7,91.3 207.0,90.8 207.4,91.1 207.7,90.9 208.1,90.7 208.4,90.7 208.8,90.8 209.1,90.8 209.5,90.5 209.8,90.1 210.2,90.6 210.5,90.6 210.9,90.2 211.2,90.4 211.6,90.5 211.9,90.5 212.3,90.6 212.6,90.3 213.0,90.6 213.3,90.1 213.7,90.6 214.0,90.4 214.4,90.5 214.7,90.6 215.1,90.8 215.4,90.3 215.8,90.5 216.1,90.3 216.5,90.5 216.8,90.4 217.2,90.3 217.5,90.7 217.9,90.6 218.2,90.5 218.6,90.7 218.9,90.2 219.3,90.6 219.6,90.8 220.0,90.4 220.3,90.4 220.7,90.4 221.0,90.7 221.4,90.7 221.7,90.6 222.1,90.7 222.4,90.4 222.8,90.4 223.1,90.7 223.5,90.3 223.8,90.6 224.2,90.5 224.5,90.4 224.9,90.6 225.2,90.3 225.6,90.4 225.9,90.2 226.3,90.3 226.6,90.4 227.0,90.6 227.3,90.5 227.7,90.3 228.0,90.5 228.4,90.9 228.7,90.5 229.1,90.6 229.4,90.1 229.8,90.4 230.1,90.7 230.5,90.3 230.8,90.4 231.2,90.4 231.5,90.5 231.9,90.6 232.2,90.2 232.6,90.6 232.9,90.1 233.3,90.4 233.6,90.6 234.0,90.3 234.3,90.4 234.7,90.4 235.0,90.8 235.4,90.3 235.7,90.7 236.1,90.9 236.4,90.5 236.8,90.4 237.1,90.5 237.5,90.3 237.8,90.5 238.2,90.3 238.5,90.3 238.9,90.2 239.2,90.7 239.6,90.4 239.9,90.3 240.3,90.7 240.6,90.5 241.0,90.5 241.3,90.4 241.7,90.5 242.0,90.5 242.4,90.4 242.7,90.5 243.1,90.7 243.4,90.5 243.8,90.8 244.1,90.7 244.5,90.3 244.8,90.4 245.2,90.3 245.5,90.4 245.9,90.7 246.2,90.5 246.6,90.4 246.9,90.5 247.3,90.1 247.6,90.6 248.0,90.5 248.3,90.7 248.7,90.5 249.0,90.7 249.4,90.7 249.7,90.5 250.1,90.6 250.4,90.4 250.8,90.4 251.1,90.3 251.5,90.5 251.8,90.3 252.2,90.3 252.5,90.5 252.9,90.3 253.2,90.6 253.6,90.4 253.9,90.5 254.3,90.5 254.6,90.7 255.0,90.6 255.3,90.5 255.7,90.4 256.0,90.7 256.4,90.5 256.7,90.3 257.1,90.6 257.4,90.7 257.8,90.5 258.1,90.5 258.5,90.8 258.8,90.4 259.2,90.7 259.5,90.8 259.9,90.8 260.2,90.3 260.6,90.6 260.9,90.6 261.3,90.9 261.6,90.8 262.0,90.7 262.3,90.8 262.7,90.6 263.0,90.4 263.4,90.9 263.7,90.2 264.1,90.7 264.4,90.7 264.8,90.6 265.1,90.7 265.5,90.5 265.8,90.7 266.2,90.6 266.5,90.4 266.9,90.7 267.2,90.4 267.6,90.7 267.9,90.4 268.3,90.6 268.6,90.7 269.0,90.8 269.3,90.4 269.7,90.5 270.0,90.6 270.4,90.4 270.7,90.7 271.1,91.0 271.4,90.7 271.8,90.7 272.1,90.4 272.5,90.7 272.8,90.7 273.2,90.9 273.5,90.5 273.9,90.8 274.2,90.5 274.6,90.5 274.9,90.5 275.3,90.6 275.6,90.3 276.0,90.5 276.3,90.8 276.7,90.2 277.0,90.7 277.4,90.7 277.7,90.5 278.1,90.4 278.4,90.8 278.8,90.5 279.1,90.6 279.5,90.5 279.8,90.4 280.2,90.8 280.5,90.7 280.9,90.4 281.2,90.8 281.6,90.3 281.9,90.3 282.3,90.7 282.6,90.5 283.0,90.6 283.3,90.9 283.7,90.4 284.0,90.7 284.4,90.5 284.7,90.6 285.1,90.5 285.4,90.4 285.8,90.6 286.1,90.4 286.5,90.6 286.8,90.4 287.2,90.5 287.5,90.6 287.9,90.3 288.2,90.6 288.6,90.7 288.9,90.6 289.3,90.7 289.6,90.4 290.0,90.7 290.3,90.6 290.7,90.2 291.0,90.6 291.4,90.7 291.7,90.6 292.1,90.6 292.4,90.6 292.8,90.6 293.1,90.4 293.5,90.5 293.8,90.2 294.2,91.0 294.5,90.6 294.9,90.6 295.2,90.7 295.6,90.7 295.9,90.6 296.3,90.3 296.6,90.4 297.0,90.9 297.3,90.7 297.7,90.7 298.0,90.4 298.4,90.5 298.7,90.6 299.1,90.4 299.4,90.8 299.8,90.4 300.1,90.5 300.5,90.4 300.8,90.7 301.2,90.8 301.6,90.6 301.9,90.6 302.3,90.5 302.6,90.7 303.0,90.6 303.3,91.0 303.7,90.5 304.0,90.5 304.4,90.4 304.7,88.5 305.1,87.2 305.4,84.9 305.8,81.8 306.1,79.8 306.5,77.6 306.6,77.0 306.8,75.7 306.9,75.7 307.1,75.0 307.2,73.0 307.4,72.4 307.5,70.8 307.7,71.3 307.8,68.9 308.0,68.1 308.1,67.7 308.3,66.2 308.4,67.2 308.6,64.7 308.7,63.7 308.8,62.2 309.0,61.9 309.1,60.6 309.3,59.7 309.4,59.8 309.6,57.7 309.7,57.5 309.9,55.7 310.0,56.0 310.2,53.7 310.3,52.4 310.5,52.1 310.6,52.8 310.8,50.0 310.9,48.4 311.1,48.3 311.2,48.1 311.4,50.1 311.5,49.2 311.7,51.3 311.8,52.9 312.0,52.9 312.1,55.3 312.3,53.7 312.4,57.0 312.6,56.3 312.7,53.8 312.9,55.9 313.0,53.3 313.2,54.5 313.3,54.9 313.5,53.9 313.6,56.1 313.8,55.6 313.9,59.5 314.1,57.5 314.2,55.9 314.4,55.4 314.5,55.8 314.7,55.7 314.8,55.8 315.0,57.4 315.1,55.1 315.3,57.1 315.4,58.6 315.6,56.8 315.7,56.0 315.9,57.2 316.0,59.7 316.2,56.9 316.3,61.2 316.5,55.5 316.6,57.2 316.8,59.9 316.9,61.3 317.1,58.4 317.2,55.6 317.4,57.9 317.5,56.5 317.7,56.7 317.8,57.1 318.0,56.5 318.1,57.3 318.3,57.4 318.4,56.5 318.6,53.7 318.7,56.6 318.9,53.2 319.0,57.2 319.2,56.3 319.3,55.4 319.5,60.9 319.6,60.2 319.8,59.6 319.9,57.7 320.1,56.4 320.2,58.2 320.4,60.3 320.5,57.4 320.7,57.6 320.8,57.2 321.0,58.5 321.1,60.5 321.3,57.9 321.4,61.4 321.6,60.2 321.7,63.0 321.9,60.3 322.0,61.6 322.2,59.1 322.3,62.4 322.5,60.4 322.6,60.3 322.8,61.5 322.9,60.6 323.1,59.8 323.2,61.1 323.4,61.2 323.5,61.0 323.7,60.8 323.8,60.3 324.0,62.3 324.1,61.2 324.3,61.8 324.4,61.5 324.6,61.5 324.7,62.2 324.9,61.6 325.0,62.8 325.2,61.5 325.3,62.9 325.5,63.4 325.6,62.6 325.8,63.1 325.9,63.6 326.1,63.0 326.2,63.2 326.4,63.4 326.5,64.9 326.7,63.3 326.8,63.8 327.0,63.8 327.1,63.9 327.3,63.8 327.4,64.1 327.6,64.6 327.7,65.3 327.9,65.7 328.0,64.3 328.2,64.6 328.3,65.2 328.5,64.8 328.6,65.1 329.0,65.7 329.3,65.8 329.7,66.0 330.0,66.8 330.4,66.6 330.7,67.2 331.1,67.8 331.4,68.3 331.8,68.4 332.1,69.1 332.5,69.0 332.8,68.5 333.2,70.2 333.5,70.8 333.9,70.2 334.2,70.5 334.6,70.2 334.9,69.6 335.3,70.0 335.6,69.6 336.0,69.6 336.3,69.9 336.7,69.8 337.0,69.6 337.4,69.4 337.7,69.9 338.1,69.7 338.4,69.7 338.8,69.5 339.1,69.5 339.5,69.7 339.8,69.2 340.2,70.0 340.5,69.7 340.9,69.9 341.2,69.9 341.6,69.5 341.9,69.8 342.3,69.4 342.6,69.4 343.0,70.0 343.3,69.5 343.7,69.4 344.0,69.7 344.4,69.6 344.7,69.8 345.1,69.3 345.4,69.5 345.8,69.3 346.1,69.6 346.5,69.5 346.8,69.4 347.2,69.2 347.5,69.2 347.9,69.8 348.2,69.5 348.6,69.3 348.9,69.6 349.3,69.3 349.6,69.8 350.0,69.7 350.3,69.5 350.7,69.4 351.0,69.1 351.4,69.6 351.7,70.0 352.1,69.6 352.4,68.9 352.6,71.1 352.7,70.3 352.9,69.4 353.0,72.3 353.2,74.9 353.3,65.7 353.5,71.0 353.6,69.9 353.8,62.4 353.9,62.9 354.1,62.3 354.2,69.3 354.4,69.0 354.5,73.3 354.7,72.3 354.8,69.9 355.0,66.0 355.1,60.3 355.3,66.5 355.4,64.0 355.6,64.9 355.7,68.3 355.9,68.1 356.0,66.2 356.2,66.7 356.3,66.2 356.5,65.8 356.6,63.9 356.8,66.5 356.9,64.0 357.1,64.9 357.2,65.5 357.4,66.8 357.5,65.7 357.7,64.8 357.8,65.4 358.0,66.6 358.1,66.9 358.3,64.8 358.4,66.5 358.8,65.0 359.1,64.9 359.5,64.9 359.8,65.2 360.2,64.9 360.5,65.0 360.9,64.7 361.2,65.4 361.6,65.1 361.9,65.0 362.3,65.6 362.6,65.2 363.0,65.4 363.3,64.9 363.7,65.0 364.0,64.9 364.4,65.3 364.7,65.1 365.1,64.5 365.4,65.2 365.8,64.9 366.1,65.1 366.5,65.3 366.8,64.9 367.2,65.2 367.5,65.0 367.9,65.0 368.2,64.8 368.6,65.0 368.9,64.9 369.3,65.2 369.6,64.3 370.0,65.2 370.3,65.0 370.7,64.7 371.0,65.2 371.4,65.0 371.7,65.2 372.1,65.4 372.4,65.1 372.8,64.5 373.1,64.5 373.5,65.0 373.8,64.6 374.2,65.6 374.5,65.0 374.9,64.5 375.2,64.3 375.6,64.8 375.9,63.0 376.1,65.2 376.2,62.0 376.4,65.6 376.5,63.6 376.7,66.1 376.8,61.9 377.0,63.0 377.1,66.1 377.3,60.3 377.4,64.9 377.6,66.3 377.7,61.2 377.9,62.8 378.0,66.3 378.2,65.7 378.3,65.9 378.5,62.3 378.6,61.6 378.8,61.8 378.9,61.3 379.1,63.5 379.2,63.4 379.4,62.6 379.5,60.1 379.7,62.8 379.8,62.1 380.0,61.4 380.1,63.1 380.3,60.0 380.4,60.8 380.6,62.4 380.7,58.9 380.9,61.7 381.0,61.3 381.2,62.5 381.3,62.1 381.5,59.2 381.6,62.5 381.8,59.4 381.9,58.6 382.1,59.7 382.2,59.7 382.4,59.2 382.5,60.9 382.7,60.5 382.8,60.5 383.0,59.3 383.1,61.0 383.5,60.2 383.8,60.4 384.2,60.2 384.5,60.2 384.9,60.3 385.2,60.1 385.6,60.5 385.9,59.9 386.3,59.5 386.6,59.9 387.0,60.0 387.3,60.2 387.7,60.1 388.0,60.2 388.4,60.2 388.7,60.0 389.1,60.2 389.4,60.2 389.8,59.8 390.1,59.5 390.5,60.1 390.8,60.2 391.2,60.3 391.5,60.3 391.9,60.1 392.2,60.3 392.6,59.8 392.9,59.8 393.3,60.4 393.6,59.6 394.0,60.0 394.3,59.7 394.7,59.6 395.0,60.6 395.4,59.4 395.7,60.5 396.1,59.8 396.4,59.7 396.8,59.4 397.1,60.0 397.5,60.1 397.8,60.1 398.2,59.6 398.5,60.4 398.9,60.0 399.2,60.2 399.4,60.3 399.5,60.3 399.7,59.4 399.8,60.1 400.0,58.7 400.1,59.9 400.3,57.9 400.4,56.9 400.6,58.2 400.7,58.9 400.9,58.0 401.0,58.6 401.2,58.1 401.3,58.9 401.5,61.1 401.6,59.4 401.8,59.6 401.9,59.7 402.1,59.3 402.2,58.7 402.4,58.9 402.5,58.9 402.7,57.7 402.8,57.4 403.0,57.5 403.1,57.3 403.3,57.5 403.4,56.8 403.6,56.6 403.7,56.9 403.9,56.9 404.0,56.4 404.4,55.5 404.7,55.7 405.1,55.7 405.4,55.0 405.8,55.2 406.1,54.7 406.5,54.7 406.8,55.0 407.2,55.1 407.5,54.7 407.9,55.2 408.2,54.9 408.6,54.9 408.9,55.3 409.3,55.1 409.6,54.7 410.0,54.8 410.3,54.5 410.7,55.1 411.0,54.9 411.4,55.4 411.7,55.2 412.1,54.8 412.4,54.6 412.8,54.7 413.1,55.2 413.5,54.8 413.8,55.1 414.2,55.2 414.5,55.2 414.9,54.9 415.2,55.0 415.6,54.4 415.9,54.9 416.3,54.8 416.6,55.1 417.0,54.3 417.3,54.7 417.7,55.4 418.0,54.9 418.4,54.7 418.7,54.8 419.1,54.8 419.4,54.7 419.8,55.0 420.1,54.9 420.5,55.1 420.8,55.4 421.2,55.0 421.5,54.9 421.9,55.2 422.2,54.4 422.6,55.3 422.9,54.5 423.3,54.5 423.4,54.9 423.6,53.7 423.7,54.1 423.9,54.8 424.0,55.1 424.2,52.6 424.3,51.0 424.5,55.4 424.6,51.6 424.8,54.7 424.9,54.8 425.1,55.1 425.2,53.2 425.4,53.1 425.5,56.5 425.7,53.6 425.8,52.5 426.0,52.1 426.1,53.1 426.3,54.8 426.4,53.6 426.6,52.0 426.7,51.4 426.9,51.9 427.0,52.1 427.2,52.2 427.3,52.1 427.5,52.3 427.6,50.6 427.8,50.3 427.9,50.9 428.1,51.1 428.4,50.1 428.8,50.0 429.1,49.4 429.5,49.3 429.8,48.5 430.2,48.5 430.5,48.8 430.9,48.9 431.2,48.4 431.6,48.6 431.9,48.4 432.3,48.3 432.6,49.2 433.0,48.4 433.3,48.5 433.7,48.5 434.0,48.3 434.4,48.5 434.7,48.6 435.1,48.7 435.4,48.4 435.8,48.2 436.1,48.5 436.5,48.8 436.8,48.9 437.2,48.5 437.5,48.5 437.9,48.3 438.2,49.0 438.6,48.4 438.9,48.4 439.3,48.5 439.6,48.5 440.0,48.6 440.3,48.7 440.7,49.0 441.0,48.7 441.4,48.7 441.7,48.1 442.1,49.2 442.4,48.7 442.8,48.8 443.1,48.4 443.5,48.5 443.8,48.4 444.2,48.5 444.5,48.4 444.9,48.8 445.2,48.8 445.6,48.5 445.9,48.4 446.3,48.8 446.6,48.4 447.0,48.8 447.3,48.2 447.7,49.1 447.8,47.9 448.0,48.4 448.1,48.9 448.3,48.0 448.4,47.5 448.6,48.0 448.7,48.3 448.9,45.9 449.0,46.9 449.2,46.9 449.3,47.3 449.5,45.8 449.6,47.0 449.8,46.5 449.9,46.6 450.1,45.6 450.2,46.8 450.4,47.2 450.5,45.8 450.7,46.0 450.8,44.9 451.0,44.0 451.1,45.2 451.3,44.9 451.4,45.3 451.6,44.8 451.7,43.9 451.9,43.2 452.0,45.0 452.2,44.8 452.3,44.0 452.5,43.8 452.6,44.3 452.8,43.4 452.9,42.8 453.1,44.2 453.2,42.5 453.4,42.9 453.5,43.7 453.7,43.1 454.0,43.2 454.4,43.3 454.7,42.7 455.1,42.0 455.4,41.9 455.8,41.7 456.1,42.9 456.5,42.0 456.8,42.6 457.2,42.7 457.5,42.8 457.9,42.6 458.2,43.1 458.6,42.8 458.9,43.1 459.3,42.6 459.6,42.6 460.0,42.7 460.3,42.8 460.7,42.9 461.0,42.4 461.4,42.9 461.7,43.5 462.1,41.7 462.4,42.9 462.8,42.6 463.1,42.5 463.5,42.4 463.8,42.1 464.2,42.7 464.5,42.3 464.9,43.3 465.2,42.7 465.6,43.3 465.9,42.7 466.3,42.0 466.6,42.8 467.0,42.7 467.3,43.0 467.7,41.7 468.0,42.6 468.4,43.2 468.7,42.6 469.1,41.8 469.4,42.8 469.8,42.8 470.1,43.2 470.5,42.9 470.8,42.1 471.2,43.2 471.6,43.0 471.7,43.2 471.8,42.2 472.0,42.8 472.1,40.7 472.3,41.0 472.4,42.0 472.6,42.4 472.7,41.6 472.9,41.2 473.0,40.8 473.2,40.5 473.3,41.2 473.5,39.3 473.6,40.4 473.8,40.9 473.9,38.9 474.1,38.4 474.2,38.9 474.4,39.3 474.5,39.5 474.7,38.6 474.8,39.3 475.0,38.3 475.1,37.5 475.3,38.9 475.4,38.1 475.6,37.5 475.7,36.8 475.9,36.3 476.0,36.8 476.2,37.7 476.3,36.5 476.5,36.1 476.6,36.2 476.8,36.9 476.9,36.7 477.1,36.9 477.2,35.5 477.4,36.7 477.5,36.7 477.7,36.1 477.8,36.4 478.0,36.7 478.1,36.0 478.5,35.4 478.8,36.1 479.2,36.0 479.5,36.2 479.9,36.9 480.2,35.9 480.6,35.8 480.9,36.5 481.3,35.9 481.6,35.3 482.0,36.1 482.3,36.4 482.7,35.1 483.0,36.8 483.4,36.9 483.7,35.4 484.1,36.1 484.4,36.2 484.8,36.2 485.1,36.1 485.5,36.3 485.8,35.6 486.2,35.9 486.5,36.0 486.9,36.2 487.2,37.0 487.6,36.5 487.9,35.5 488.3,36.2 488.6,37.0 489.0,37.1 489.3,36.9 489.7,36.1 490.0,36.4 490.4,36.2 490.7,35.6 491.1,36.1 491.4,35.9 491.8,35.5 492.1,36.1 492.5,35.9 492.8,36.0 493.2,36.5 493.6,35.6 493.9,36.2 494.3,36.4 494.6,36.3 495.0,36.3 495.3,36.2 495.5,35.3 495.6,34.9 495.8,35.8 495.9,35.9 496.1,35.6 496.2,35.6 496.3,35.9 496.5,37.4 496.6,35.5 496.8,36.0 496.9,35.5 497.1,34.7 497.2,35.0 497.4,33.8 497.5,34.4 497.7,34.0 497.8,35.1 498.0,36.1 498.1,35.2 498.3,36.1 498.4,36.3 498.6,36.6 498.7,36.5 499.1,37.2 499.4,36.8 499.8,37.8 500.1,39.0 500.5,37.9 500.8,39.2 501.2,38.7 501.3,38.9 501.5,40.4 501.6,39.9 501.8,40.0 501.9,40.8 502.1,40.4 502.2,40.1 502.4,39.0 502.5,40.8 502.7,41.6 502.8,40.4 503.0,40.1 503.1,40.0 503.3,41.5 503.4,40.0 503.6,41.7 503.7,42.1 503.9,41.4 504.0,41.2 504.2,41.8 504.3,43.1 504.5,41.5 504.6,41.9 504.8,42.8 504.9,42.2 505.1,43.6 505.2,42.4 505.4,42.3 505.5,42.2 505.7,43.2 505.8,44.1 506.0,43.6 506.1,43.3 506.3,42.9 506.4,44.1 506.6,43.7 506.7,45.6 506.9,43.6 507.0,43.6 507.2,43.8 507.3,44.9 507.5,45.3 507.6,45.2 507.8,45.9 507.9,45.7 508.1,45.1 508.2,46.6 508.4,45.2 508.5,46.0 508.7,46.0 508.8,46.8 509.0,46.2 509.1,46.6 509.3,45.2 509.4,46.6 509.6,46.9 509.7,47.9 509.9,45.9 510.0,46.4 510.2,47.8 510.3,48.8 510.5,47.7 510.6,46.3 510.8,46.7 510.9,47.7 511.1,47.5 511.2,48.6 511.4,49.1 511.5,49.1 511.7,48.1 511.8,48.4 512.0,48.9 512.1,49.4 512.3,49.7 512.4,49.2 512.6,50.3 512.7,50.2 512.9,49.7 513.0,50.2 513.2,51.2 513.3,50.8 513.5,50.3 513.6,50.4 513.8,51.4 513.9,51.2 514.1,51.2 514.2,50.7 514.4,51.2 514.5,51.6 514.7,52.8 514.8,50.9 515.0,52.0 515.1,51.5 515.3,51.3 515.4,53.8 515.6,51.7 515.7,53.5 515.9,53.5 516.0,53.3 516.2,53.2 516.3,53.2 516.5,53.8 516.6,53.8 516.8,54.1 516.9,54.3 517.1,52.9 517.2,53.3 517.4,54.3 517.5,54.4 517.7,53.7 517.8,55.4 518.0,55.2 518.1,55.2 518.3,55.9 518.4,55.8 518.6,55.4 518.7,55.2 518.9,56.6 519.0,55.6 519.2,55.5 519.3,55.5 519.5,56.9 519.6,56.7 519.8,56.5 519.9,57.5 520.1,56.4 520.2,57.7 520.4,56.9 520.5,57.3 520.7,57.4 520.8,57.8 521.0,58.8 521.1,57.6 521.3,58.9 521.4,59.2 521.6,58.3 521.7,58.1 521.9,57.9 522.0,58.8 522.2,60.6 522.3,59.0 522.5,59.3 522.6,58.5 522.8,59.9 522.9,59.8 523.1,60.7 523.2,62.0 523.4,61.0 523.5,59.0 523.7,59.6 523.8,58.0 524.0,58.8 524.1,57.3 524.3,60.2 524.4,56.0 524.6,59.1 524.7,58.3 524.9,56.1 525.0,58.6 525.2,58.9 525.3,59.2 525.5,56.7 525.6,57.6 525.8,56.7 525.9,57.9 526.1,56.1 526.2,57.1 526.4,54.5 526.5,54.7 526.7,54.0 526.8,54.7 527.0,53.4 527.1,54.6 527.3,53.6 527.4,52.6 527.6,54.0 527.7,54.7 527.9,53.8 528.0,53.4 528.2,52.6 528.3,52.5 528.5,50.8 528.6,54.1 528.8,50.3 528.9,50.9 529.1,50.5 529.2,50.3 529.4,51.2 529.5,50.1 529.7,50.1 529.8,50.7 530.0,49.0 530.1,48.9 530.3,50.1 530.4,49.0 530.6,47.8 530.7,50.4 530.9,49.7 531.0,51.5 531.2,52.3 531.3,53.2 531.5,54.0 531.6,54.4 531.8,55.3 532.1,56.3 532.5,59.1 532.8,59.9 533.2,62.8 533.5,64.0 533.9,66.5 534.2,67.9 534.6,69.9 534.9,71.7 535.3,74.4 535.6,77.4 536.0,80.1 536.3,82.4 536.7,84.5 537.0,87.9 537.4,89.1 537.7,89.0 538.1,88.3 538.4,88.4 538.8,87.3 539.1,87.5 539.5,87.2 539.8,87.6 540.2,86.9 540.5,87.4 540.9,87.0 541.2,86.9 541.6,86.8 541.9,86.8 542.3,87.0 542.6,87.0 543.0,86.7 543.3,87.3 543.7,87.1 544.0,86.8 544.4,87.0 544.7,86.8 545.1,86.7 545.4,86.7 545.8,86.7 546.1,87.2 546.5,87.2 546.8,86.8 547.2,86.7 547.5,87.0 547.9,86.6 548.2,86.9 548.6,86.4 548.9,86.8 549.3,86.9 549.6,86.9 550.0,87.0 550.3,86.9 550.7,86.6 551.0,86.4 551.4,86.2 551.7,86.4 552.1,86.6 552.4,86.5 552.8,87.1 553.1,86.7 553.5,86.7 553.8,86.6 554.2,86.5 554.5,86.6 554.9,86.8 555.2,86.6 555.6,86.7 555.9,86.8 556.3,86.6 556.6,86.6 557.0,86.6 557.3,86.7 557.7,86.7 558.0,86.5 558.4,86.7 558.7,86.7 559.1,86.5 559.4,86.2 559.8,86.8 560.1,86.4 560.5,86.5 560.8,86.4 561.2,86.3 561.5,86.1 561.9,86.3 562.2,86.3 562.6,86.4 562.9,86.3 563.3,86.2 563.6,86.3 564.0,86.0 564.3,85.8 564.7,85.9 565.0,85.7 565.4,85.4 565.7,85.3 566.1,85.2 566.4,85.2 566.8,84.8 567.1,84.8 567.5,84.9 567.8,84.8 568.2,84.8 568.5,84.8 568.9,84.4 569.2,84.8 569.6,84.5 569.9,83.9 570.3,84.3 570.6,84.2 571.0,84.5 571.3,84.8 571.7,84.2 572.0,84.6 572.4,84.4 572.7,84.3 573.1,84.8 573.4,84.9 573.8,84.6 574.1,84.7 574.5,84.6 574.8,84.7 575.2,84.9 575.5,84.9 575.9,85.1 576.2,85.0 576.6,85.0 576.9,85.0 577.3,85.1 577.6,85.1 578.0,84.7 578.3,85.0 578.7,85.1 579.0,84.8 579.4,84.7 579.7,84.8 580.1,84.7 580.4,84.9 580.8,85.0 581.1,85.1 581.5,84.6 581.8,85.1 582.2,85.1 582.5,85.4 582.9,84.9 583.2,85.1 583.6,84.6 583.9,85.2 584.3,85.3 584.6,85.0 585.0,84.8 585.3,85.3 585.7,84.8 586.0,85.3 586.4,84.7 586.7,85.1 587.1,85.0 587.4,85.0 587.8,84.8 588.1,84.7 588.5,85.2 588.8,85.0 589.2,84.8 589.5,84.7 589.9,85.1 590.2,85.2 590.6,84.9 590.9,84.9 591.3,85.1 591.6,85.0 592.0,85.2 592.3,84.9 592.7,84.8 593.0,84.9 593.4,84.7 593.7,84.7 594.1,84.8 594.4,84.9 594.8,84.9 595.1,84.6 595.5,84.9 595.8,85.3 596.2,84.6 596.5,84.8 596.9,84.8 597.2,85.0 597.6,84.8 597.9,85.3 598.3,84.8 598.6,85.0 599.0,84.9 599.3,85.2 599.7,85.0 600.0,84.6 600.4,85.3 600.7,86.4 601.1,88.0 601.4,89.2 601.8,90.4 602.1,91.6 602.5,92.7 602.8,94.4 603.2,95.6 603.5,97.1 603.9,97.6 604.2,98.2 604.6,98.1 604.9,98.7 605.3,98.9 605.6,99.0 606.0,99.4 606.4,99.8 606.7,100.1 607.1,100.4 607.4,100.7 607.8,101.0 608.1,101.3 608.5,101.3 608.8,102.0 609.2,102.6 609.5,102.5 609.9,102.9 610.2,102.9 610.6,102.9 610.9,103.0 611.3,103.0 611.6,103.3 612.0,103.2 612.3,103.5 612.7,103.5 613.0,103.2 613.4,104.0 613.7,103.6 614.1,103.7 614.4,103.7 614.8,103.6 615.1,103.9 615.5,104.0 615.8,103.6 616.2,104.1 616.5,104.1 616.9,104.5 617.2,103.8 617.6,104.1 617.9,104.6 618.3,104.3 618.6,104.6 619.0,104.3 619.3,104.4 619.7,104.7 620.0,104.5 620.4,104.4 620.7,104.6 621.1,104.8 621.4,104.6 621.8,105.0 622.1,104.3 622.5,104.9 622.8,104.6 623.2,104.7 623.5,104.7 623.9,104.5 624.2,104.5 624.6,104.3 624.9,104.4 625.3,104.4 625.6,104.8 626.0,104.5 626.3,104.6 626.7,104.5 627.0,105.0 627.4,104.4 627.7,104.4 628.1,104.7 628.4,104.2 628.8,104.5 629.1,104.3 629.5,104.4 629.8,104.5 630.2,104.9 630.5,104.7 630.9,104.7 631.2,104.6 631.6,104.6 631.9,104.4 632.3,104.5 632.6,104.5 633.0,104.6 633.3,104.7 633.7,104.3 634.0,104.3 634.4,104.8 634.7,104.3 635.1,104.7 635.4,104.9 635.8,104.7 636.1,104.6 636.5,104.5 636.8,104.5 637.2,104.7 637.5,104.9 637.9,104.6 638.2,104.4 638.6,104.8 638.9,104.5 639.3,104.7 639.6,104.5 640.0,104.5 640.3,104.6 640.7,104.4 641.0,104.3 641.4,104.4 641.7,104.5 642.1,104.4 642.4,104.6 642.8,104.5 643.1,104.5 643.5,104.4 643.8,104.5 644.2,104.6 644.5,104.4 644.9,104.4 645.2,104.5 645.6,104.5 645.9,104.3 646.3,104.6 646.6,104.5 647.0,104.8 647.3,104.2 647.7,104.2 648.0,104.5 648.4,104.8 648.7,104.6 649.1,104.4 649.4,104.3 649.8,104.5 650.1,104.3 650.5,104.2 650.8,104.4 651.2,104.2 651.5,104.3 651.9,104.2 652.2,104.3 652.6,104.4 652.9,104.3 653.3,104.3 653.6,104.1 654.0,104.0 654.3,104.2 654.7,104.2 655.0,104.3 655.4,103.9 655.7,104.3 656.1,104.1 656.4,103.9 656.8,104.0 657.1,104.0 657.5,104.3 657.8,104.0 658.2,104.1 658.5,103.9 658.9,103.8 659.2,103.9"/>
<line x1="73" y1="11" x2="73" y2="326" stroke="#000" stroke-width="2.4"/>
<line x1="71.8" y1="324.8" x2="660.5" y2="324.8" stroke="#000" stroke-width="2.4"/>
<line x1="219.6" y1="319.4" x2="219.6" y2="324.8" stroke="#000" stroke-width="2.2"/>
<line x1="366.1" y1="319.4" x2="366.1" y2="324.8" stroke="#000" stroke-width="2.2"/>
<line x1="512.7" y1="319.4" x2="512.7" y2="324.8" stroke="#000" stroke-width="2.2"/>
<line x1="659.3" y1="319.4" x2="659.3" y2="324.8" stroke="#000" stroke-width="2.2"/>
<line x1="161.0" y1="58.6" x2="161.0" y2="259.2" stroke="#1a1a1a" stroke-width="2"/>
<line x1="304.5" y1="58.4" x2="304.5" y2="259.2" stroke="#1a1a1a" stroke-width="2"/>
<line x1="523.3" y1="38.9" x2="523.3" y2="259.2" stroke="#1a1a1a" stroke-width="2"/>
<line x1="600.4" y1="78.3" x2="600.4" y2="259.2" stroke="#1a1a1a" stroke-width="2"/>
<text x="57.6" y="17.9" text-anchor="end" class="tk">7</text>
<text x="57.6" y="80.6" text-anchor="end" class="tk">2</text>
<text x="57.6" y="143.3" text-anchor="end" class="tk">-3</text>
<text x="57.6" y="206.1" text-anchor="end" class="tk">-8</text>
<text x="57.6" y="268.8" text-anchor="end" class="tk">-13</text>
<text x="57.6" y="331.5" text-anchor="end" class="tk">-18</text>
<text x="72.7" y="352.9" text-anchor="middle" class="tk">0</text>
<text x="220.3" y="352.9" text-anchor="middle" class="tk">50</text>
<text x="366.8" y="352.9" text-anchor="middle" class="tk">100</text>
<text x="513.4" y="352.9" text-anchor="middle" class="tk">150</text>
<text x="660.0" y="352.9" text-anchor="middle" class="tk">200</text>
<text x="367.9" y="376.5" text-anchor="middle" class="ax">Time (s)</text>
<text transform="translate(16.2,174.3) rotate(-90)" x="0" y="0" text-anchor="middle" class="ax">Balance output (mV)</text>
<text transform="translate(156,280.5) scale(1.05,1)" text-anchor="middle" class="an">Wind tunnel</text>
<text transform="translate(155.8,302.6) scale(1.05,1)" text-anchor="middle" class="an">blow</text>
<text transform="translate(296,280.5) scale(1.05,1)" text-anchor="middle" class="an">Model entry</text>
<text transform="translate(297,302.6) scale(1.05,1)" text-anchor="middle" class="an">into flowfield</text>
<text transform="translate(500.5,280.5) scale(1.05,1)" text-anchor="middle" class="an">Model exit</text>
<text transform="translate(500.5,302.6) scale(1.05,1)" text-anchor="middle" class="an">out of flowfield</text>
<text transform="translate(620.6,280.5) scale(1.05,1)" text-anchor="middle" class="an">Wind tunnel</text>
<text transform="translate(619.8,302.6) scale(1.05,1)" text-anchor="middle" class="an">stop</text>
<rect x="604.3" y="1.7" width="79" height="70.4" fill="#fff" stroke="#000" stroke-width="1.5"/>
<line x1="612.5" y1="14.0" x2="648.2" y2="14.0" stroke="#C0504D" stroke-width="2.2"/>
<text x="651.4" y="19.8" class="lg">A</text>
<line x1="612.5" y1="36.9" x2="648.2" y2="36.9" stroke="#4F81BD" stroke-width="2.2"/>
<text x="651.4" y="42.7" class="lg">N</text>
<line x1="612.5" y1="60.5" x2="648.2" y2="60.5" stroke="#00B050" stroke-width="2.2"/>
<text x="651.4" y="66.3" class="lg">Mz</text>
</svg>
</body></html>
